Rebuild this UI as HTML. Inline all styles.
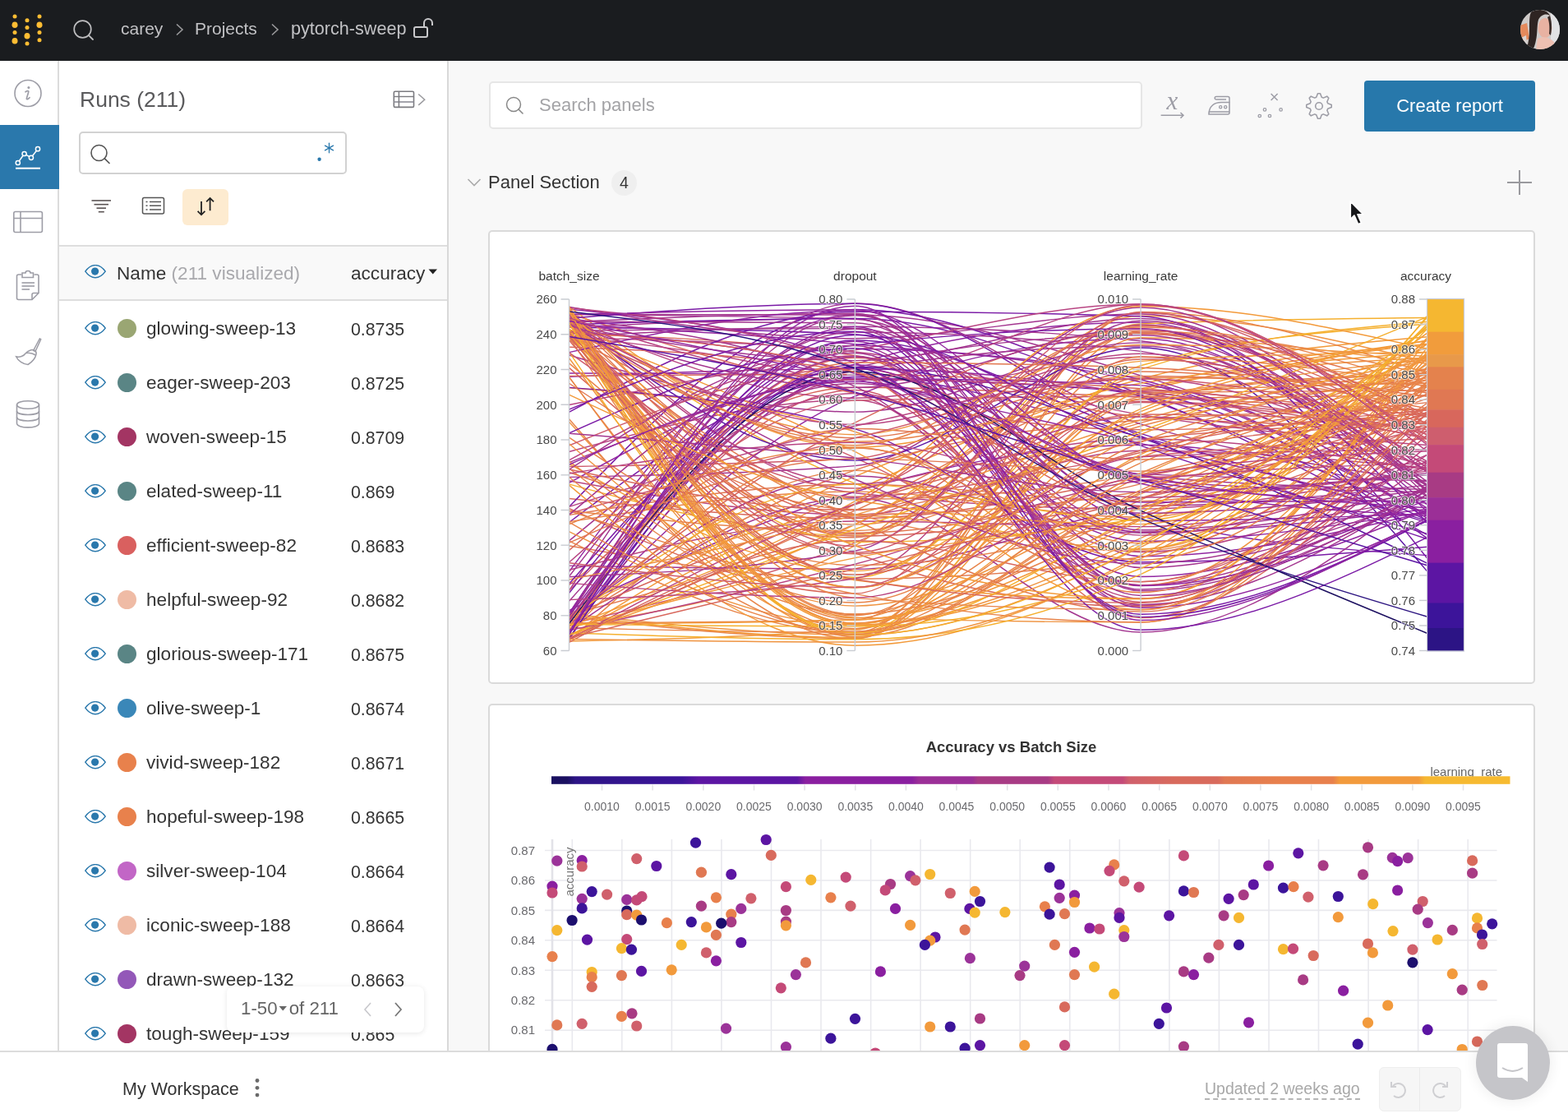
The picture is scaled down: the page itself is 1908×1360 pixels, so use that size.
<!DOCTYPE html>
<html><head><meta charset="utf-8">
<style>
*{box-sizing:border-box;margin:0;padding:0}
html,body{width:1908px;height:1360px;overflow:hidden;background:#f8f8f8;font-family:"Liberation Sans",sans-serif;color:#333}
.abs{position:absolute}
#hdr{position:absolute;left:0;top:0;width:1908px;height:74px;background:#1a1c1f}
#hdr .crumb{position:absolute;top:22px;font-size:21px;color:#c2c2c5;white-space:nowrap;line-height:26px}
#nav{position:absolute;left:0;top:74px;width:72px;height:1204px;background:#fff;border-right:2px solid #dcdcdc}
#nav .act{position:absolute;left:0;top:78px;width:72px;height:78px;background:#2a78ac}
#runs{position:absolute;left:72px;top:74px;width:474px;height:1204px;background:#fff;border-right:2px solid #d9d9d9;overflow:hidden}
#runs .title{position:absolute;left:25px;top:30.5px;font-size:26.5px;color:#5a5a5c;white-space:nowrap;line-height:32px}
#runs .sbox{position:absolute;left:24px;top:86px;width:326px;height:52px;border:2px solid #d2d2d2;border-radius:5px;background:#fff}
#runs .sortbtn{position:absolute;left:150px;top:156px;width:56px;height:44px;background:#fdebd0;border-radius:6px}
#runs .thead{position:absolute;left:0;top:224px;width:472px;height:68px;background:#f9f9f9;border-top:2px solid #dedede;border-bottom:2px solid #dedede}
.row{position:absolute;left:0;width:472px;height:66px}
.row .nm{position:absolute;left:106px;top:20.3px;font-size:22.6px;color:#343434;white-space:nowrap;line-height:28px}
.row .val{position:absolute;left:355px;top:20.8px;font-size:21.3px;color:#343434;white-space:nowrap;line-height:28px}
.row .dot{position:absolute;left:71px;top:22px;width:23px;height:23px;border-radius:50%}
.row svg.eye{position:absolute;left:31px;top:25px}
#main{position:absolute;left:546px;top:74px;width:1362px;height:1204px;background:#f8f8f8;overflow:hidden}
#bottom{position:absolute;left:0;top:1278px;width:1908px;height:82px;background:#fff;border-top:2px solid #dcdcdc}
.panel{position:absolute;left:48px;width:1274px;background:#fff;border:2px solid #dadada;border-radius:5px;overflow:hidden}
</style></head>
<body>
<div id="hdr">
  <svg class="abs" style="left:0;top:0" width="70" height="74"><circle cx="18" cy="20.1" r="2.5" fill="#ffbd33"/><ellipse cx="18" cy="30.3" rx="3.5" ry="3.8" fill="#ffbd33"/><circle cx="18" cy="39.6" r="2.5" fill="#ffbd33"/><ellipse cx="18" cy="49.8" rx="3.5" ry="3.8" fill="#ffbd33"/><circle cx="33" cy="24.7" r="2.5" fill="#ffbd33"/><circle cx="33" cy="33.5" r="2.5" fill="#ffbd33"/><ellipse cx="33" cy="43.7" rx="3.5" ry="3.8" fill="#ffbd33"/><circle cx="33" cy="53.1" r="2.5" fill="#ffbd33"/><circle cx="48" cy="20.1" r="2.5" fill="#ffbd33"/><ellipse cx="48" cy="30.2" rx="3.5" ry="3.8" fill="#ffbd33"/><circle cx="48" cy="39.6" r="2.5" fill="#ffbd33"/><circle cx="48" cy="48.7" r="2.5" fill="#ffbd33"/></svg>
  <svg class="abs" style="left:86px;top:20px" width="32" height="34" viewBox="0 0 32 34"><circle cx="14.5" cy="15.5" r="10.3" fill="none" stroke="#bdbdbf" stroke-width="1.7"/><line x1="21.8" y1="22.8" x2="27" y2="28" stroke="#bdbdbf" stroke-width="1.8" stroke-linecap="round"/></svg>
  <div class="crumb" style="left:147px">carey</div>
  <svg class="abs" style="left:213px;top:28px" width="12" height="16" viewBox="0 0 12 16"><path d="M2 1.5 L9 8 L2 14.5" fill="none" stroke="#9a9a9c" stroke-width="1.6"/></svg>
  <div class="crumb" style="left:237px">Projects</div>
  <svg class="abs" style="left:329px;top:28px" width="12" height="16" viewBox="0 0 12 16"><path d="M2 1.5 L9 8 L2 14.5" fill="none" stroke="#9a9a9c" stroke-width="1.6"/></svg>
  <div class="crumb" style="left:354px;font-size:21.6px">pytorch-sweep</div>
  <svg class="abs" style="left:502px;top:20px" width="28" height="28" viewBox="0 0 28 28"><rect x="2" y="13" width="16" height="12" rx="2" fill="none" stroke="#c9c9cb" stroke-width="2"/><path d="M14 13 V8 a5 5 0 0 1 10 0 V11" fill="none" stroke="#c9c9cb" stroke-width="2"/></svg>
  <svg class="abs" style="left:1849px;top:11px" width="50" height="50" viewBox="0 0 50 50">
<defs><clipPath id="avc"><circle cx="25" cy="25" r="24"/></clipPath></defs>
<g clip-path="url(#avc)">
<rect width="50" height="50" fill="#cfcbc9"/>
<rect x="38" y="0" width="12" height="50" fill="#e2e2e4"/>
<path d="M0 20 L9 17 L12 36 L0 42Z" fill="#e58a5c"/>
<path d="M0 36 L8 32 L10 50 L0 50Z" fill="#d9d4d2"/>
<ellipse cx="31" cy="23" rx="8.5" ry="12" fill="#e8b2a2"/>
<path d="M22 36 C28 33 36 34 42 40 L44 50 L20 50Z" fill="#eec0b2"/>
<path d="M14 4 C20 -1 34 0 37 8 C32 5 26 7 23 13 C21 20 22 30 20 38 C19 44 17 48 16 50 L8 50 C11 42 12 34 12 24 C12 15 12 8 14 4Z" fill="#2e2422"/>
<path d="M37 8 C39 14 40 22 38 32 L36 30 C37 22 36 14 34 10Z" fill="#3a2c28"/>
</g></svg>
</div>
<div id="nav">
  <div class="act"></div>
  <svg class="abs" style="left:16px;top:21px" width="38" height="38" viewBox="0 0 38 38"><circle cx="18" cy="18.5" r="16" fill="none" stroke="#9d9da6" stroke-width="1.6"/>
<path d="M15 16.8 C16.5 15.7 18.6 15.1 18.8 16.3 C18.2 19.5 16.8 22.6 16.4 24.8 C16.2 26.2 18.2 25.8 20 23.7" fill="none" stroke="#9d9da6" stroke-width="1.7" stroke-linecap="round"/><circle cx="18.9" cy="11.6" r="1.5" fill="#9d9da6"/></svg><svg class="abs" style="left:14px;top:100px" width="40" height="36" viewBox="0 0 40 36">
<polyline points="7.8,24 15.6,13 23.9,17.8 32,7.2" fill="none" stroke="#fff" stroke-width="1.5"/>
<g fill="#2a78ac" stroke="#fff" stroke-width="1.5"><circle cx="7.8" cy="24" r="2.6"/><circle cx="15.6" cy="13" r="2.6"/><circle cx="23.9" cy="17.8" r="2.6"/><circle cx="32" cy="7.2" r="2.6"/></g>
<line x1="5" y1="30.7" x2="35" y2="30.7" stroke="#fff" stroke-width="2"/></svg><svg class="abs" style="left:14px;top:180px" width="40" height="32" viewBox="0 0 40 32">
<rect x="2.8" y="3.5" width="34.6" height="25" rx="2" fill="none" stroke="#9d9da6" stroke-width="1.6"/>
<line x1="2.8" y1="11.5" x2="37.4" y2="11.5" stroke="#9d9da6" stroke-width="1.6"/><line x1="11" y1="3.5" x2="11" y2="28.5" stroke="#9d9da6" stroke-width="1.6"/></svg><svg class="abs" style="left:18px;top:254px" width="32" height="38" viewBox="0 0 32 38">
<path d="M8 6 H4.5 a2 2 0 0 0 -2 2 V34.5 a2 2 0 0 0 2 2 H21 L29 28.5 V8 a2 2 0 0 0 -2 -2 H23.5" fill="none" stroke="#9d9da6" stroke-width="1.6"/>
<path d="M9 4 H13 a3 2.5 0 0 1 6 0 H22.5 V9.5 H9 Z" fill="none" stroke="#9d9da6" stroke-width="1.6"/>
<path d="M21 36.5 V30.5 a2 2 0 0 1 2 -2 H29" fill="none" stroke="#9d9da6" stroke-width="1.6"/>
<line x1="8.5" y1="16" x2="24" y2="16" stroke="#9d9da6" stroke-width="1.6"/><line x1="8.5" y1="20" x2="24" y2="20" stroke="#9d9da6" stroke-width="1.6"/><line x1="8.5" y1="24" x2="18" y2="24" stroke="#9d9da6" stroke-width="1.6"/></svg><svg class="abs" style="left:16px;top:334px" width="36" height="40" viewBox="0 0 36 40">
<path d="M32.3 4 L33.7 4.8 L27 19.5 L24.6 18.4 Z" fill="none" stroke="#9d9da6" stroke-width="1.5"/>
<path d="M21 18 C24 16.5 29 18.5 28 23 C27 28 22 33 18 35.5 C12 35 6 31 3.6 25.8 C8 27 13 25 15 22 C17 19.5 18.5 18.8 21 18 Z" fill="none" stroke="#9d9da6" stroke-width="1.5"/>
<path d="M16 21.5 C20 21 25 22.5 27.5 24" fill="none" stroke="#9d9da6" stroke-width="1.5"/></svg><svg class="abs" style="left:18px;top:411px" width="32" height="38" viewBox="0 0 32 38">
<ellipse cx="16" cy="7.5" rx="13.5" ry="4.8" fill="none" stroke="#9d9da6" stroke-width="1.6"/>
<path d="M2.5 7.5 V30 C2.5 36.5 29.5 36.5 29.5 30 V7.5" fill="none" stroke="#9d9da6" stroke-width="1.6"/>
<path d="M2.5 15 C2.5 21 29.5 21 29.5 15 M2.5 22.5 C2.5 28.5 29.5 28.5 29.5 22.5" fill="none" stroke="#9d9da6" stroke-width="1.6"/></svg>
</div>
<div id="runs">
  <div class="title">Runs (211)</div>
  <svg class="abs" style="left:404px;top:34px" width="44" height="26" viewBox="0 0 44 26">
<rect x="3.3" y="3.3" width="24.2" height="19.1" rx="1.5" fill="none" stroke="#7b7b80" stroke-width="1.6"/>
<line x1="3.3" y1="9.5" x2="27.5" y2="9.5" stroke="#7b7b80" stroke-width="1.4"/><line x1="3.3" y1="16" x2="27.5" y2="16" stroke="#8e8e98" stroke-width="1.6"/><line x1="9.4" y1="3.3" x2="9.4" y2="22.4" stroke="#7b7b80" stroke-width="1.5"/>
<path d="M33.2 6.5 L40.7 13.2 L33.2 19.9" fill="none" stroke="#9a9a9e" stroke-width="1.5"/></svg><div class="sbox"></div><svg class="abs" style="left:36px;top:99px" width="30" height="30" viewBox="0 0 30 30"><circle cx="12.5" cy="13" r="9.5" fill="none" stroke="#555" stroke-width="1.6"/><line x1="19.3" y1="19.8" x2="25" y2="25.5" stroke="#555" stroke-width="1.7" stroke-linecap="round"/></svg><svg class="abs" style="left:310px;top:96px" width="30" height="30" viewBox="0 0 30 30"><circle cx="6.6" cy="23.7" r="2.2" fill="#2a78ac"/>
<g stroke="#2a78ac" stroke-width="1.3" stroke-linecap="round"><line x1="18.5" y1="4.2" x2="18.5" y2="15.8"/><line x1="13.5" y1="7.1" x2="23.5" y2="12.9"/><line x1="13.5" y1="12.9" x2="23.5" y2="7.1"/></g></svg><svg class="abs" style="left:38px;top:166px" width="28" height="22" viewBox="0 0 28 22"><g stroke="#5a5353" stroke-width="1.6"><line x1="1.5" y1="4" x2="25" y2="4"/><line x1="4.5" y1="8.7" x2="22" y2="8.7"/><line x1="7.5" y1="13.2" x2="19" y2="13.2"/><line x1="9.8" y1="17.7" x2="16.8" y2="17.7"/></g></svg><svg class="abs" style="left:100px;top:164px" width="30" height="26" viewBox="0 0 30 26"><rect x="1.5" y="2.5" width="26" height="19.5" rx="2" fill="none" stroke="#555" stroke-width="1.5"/>
<g stroke="#555" stroke-width="1.5"><line x1="5.5" y1="7.5" x2="7.5" y2="7.5"/><line x1="10" y1="7.5" x2="24" y2="7.5"/><line x1="5.5" y1="12.2" x2="7.5" y2="12.2"/><line x1="10" y1="12.2" x2="24" y2="12.2"/><line x1="5.5" y1="17" x2="7.5" y2="17"/><line x1="10" y1="17" x2="24" y2="17"/></g></svg><div class="sortbtn"></div><svg class="abs" style="left:165px;top:163px" width="28" height="30" viewBox="0 0 28 30"><g stroke="#222" stroke-width="1.8" fill="none"><path d="M8 8 V24.3 M3.6 19.9 L8 24.3 L12.4 19.9"/><path d="M18.6 19.3 V3.9 M14.2 8.3 L18.6 3.9 L23 8.3"/></g></svg>
  <div class="thead">
    <svg class="abs" style="left:31px;top:22px" width="26" height="18" viewBox="0 0 26 18"><path d="M0.8 8.2 C5 2.3 9 0.6 13 0.6 C17 0.6 21 2.3 25.2 8.2 C21 14.1 17 15.8 13 15.8 C9 15.8 5 14.1 0.8 8.2 Z" fill="none" stroke="#2a78ac" stroke-width="1.45"/><circle cx="12.6" cy="8.1" r="4.6" fill="#2a78ac"/></svg><div class="abs" style="left:70px;top:19px;font-size:22.6px;line-height:28px;white-space:nowrap;color:#343434">Name <span style="color:#a9a9ad">(211 visualized)</span></div><div class="abs" style="left:355px;top:19px;font-size:22.6px;line-height:28px;white-space:nowrap;color:#343434">accuracy</div><svg class="abs" style="left:449px;top:27px" width="12" height="8" viewBox="0 0 12 8"><path d="M0.5 0.5 H11 L5.75 6.5Z" fill="#222"/></svg>
  </div>
  <div class="row" style="top:292px"><svg class="eye" width="26" height="18" viewBox="0 0 26 18"><path d="M0.8 8.2 C5 2.3 9 0.6 13 0.6 C17 0.6 21 2.3 25.2 8.2 C21 14.1 17 15.8 13 15.8 C9 15.8 5 14.1 0.8 8.2 Z" fill="none" stroke="#2a78ac" stroke-width="1.45"/><circle cx="12.6" cy="8.1" r="4.6" fill="#2a78ac"/></svg><div class="dot" style="background:#9aa673"></div><div class="nm">glowing-sweep-13</div><div class="val">0.8735</div></div><div class="row" style="top:358px"><svg class="eye" width="26" height="18" viewBox="0 0 26 18"><path d="M0.8 8.2 C5 2.3 9 0.6 13 0.6 C17 0.6 21 2.3 25.2 8.2 C21 14.1 17 15.8 13 15.8 C9 15.8 5 14.1 0.8 8.2 Z" fill="none" stroke="#2a78ac" stroke-width="1.45"/><circle cx="12.6" cy="8.1" r="4.6" fill="#2a78ac"/></svg><div class="dot" style="background:#5a8585"></div><div class="nm">eager-sweep-203</div><div class="val">0.8725</div></div><div class="row" style="top:424px"><svg class="eye" width="26" height="18" viewBox="0 0 26 18"><path d="M0.8 8.2 C5 2.3 9 0.6 13 0.6 C17 0.6 21 2.3 25.2 8.2 C21 14.1 17 15.8 13 15.8 C9 15.8 5 14.1 0.8 8.2 Z" fill="none" stroke="#2a78ac" stroke-width="1.45"/><circle cx="12.6" cy="8.1" r="4.6" fill="#2a78ac"/></svg><div class="dot" style="background:#a33563"></div><div class="nm">woven-sweep-15</div><div class="val">0.8709</div></div><div class="row" style="top:490px"><svg class="eye" width="26" height="18" viewBox="0 0 26 18"><path d="M0.8 8.2 C5 2.3 9 0.6 13 0.6 C17 0.6 21 2.3 25.2 8.2 C21 14.1 17 15.8 13 15.8 C9 15.8 5 14.1 0.8 8.2 Z" fill="none" stroke="#2a78ac" stroke-width="1.45"/><circle cx="12.6" cy="8.1" r="4.6" fill="#2a78ac"/></svg><div class="dot" style="background:#5a8585"></div><div class="nm">elated-sweep-11</div><div class="val">0.869</div></div><div class="row" style="top:556px"><svg class="eye" width="26" height="18" viewBox="0 0 26 18"><path d="M0.8 8.2 C5 2.3 9 0.6 13 0.6 C17 0.6 21 2.3 25.2 8.2 C21 14.1 17 15.8 13 15.8 C9 15.8 5 14.1 0.8 8.2 Z" fill="none" stroke="#2a78ac" stroke-width="1.45"/><circle cx="12.6" cy="8.1" r="4.6" fill="#2a78ac"/></svg><div class="dot" style="background:#d9605f"></div><div class="nm">efficient-sweep-82</div><div class="val">0.8683</div></div><div class="row" style="top:622px"><svg class="eye" width="26" height="18" viewBox="0 0 26 18"><path d="M0.8 8.2 C5 2.3 9 0.6 13 0.6 C17 0.6 21 2.3 25.2 8.2 C21 14.1 17 15.8 13 15.8 C9 15.8 5 14.1 0.8 8.2 Z" fill="none" stroke="#2a78ac" stroke-width="1.45"/><circle cx="12.6" cy="8.1" r="4.6" fill="#2a78ac"/></svg><div class="dot" style="background:#efbba5"></div><div class="nm">helpful-sweep-92</div><div class="val">0.8682</div></div><div class="row" style="top:688px"><svg class="eye" width="26" height="18" viewBox="0 0 26 18"><path d="M0.8 8.2 C5 2.3 9 0.6 13 0.6 C17 0.6 21 2.3 25.2 8.2 C21 14.1 17 15.8 13 15.8 C9 15.8 5 14.1 0.8 8.2 Z" fill="none" stroke="#2a78ac" stroke-width="1.45"/><circle cx="12.6" cy="8.1" r="4.6" fill="#2a78ac"/></svg><div class="dot" style="background:#5a8585"></div><div class="nm">glorious-sweep-171</div><div class="val">0.8675</div></div><div class="row" style="top:754px"><svg class="eye" width="26" height="18" viewBox="0 0 26 18"><path d="M0.8 8.2 C5 2.3 9 0.6 13 0.6 C17 0.6 21 2.3 25.2 8.2 C21 14.1 17 15.8 13 15.8 C9 15.8 5 14.1 0.8 8.2 Z" fill="none" stroke="#2a78ac" stroke-width="1.45"/><circle cx="12.6" cy="8.1" r="4.6" fill="#2a78ac"/></svg><div class="dot" style="background:#3a87b8"></div><div class="nm">olive-sweep-1</div><div class="val">0.8674</div></div><div class="row" style="top:820px"><svg class="eye" width="26" height="18" viewBox="0 0 26 18"><path d="M0.8 8.2 C5 2.3 9 0.6 13 0.6 C17 0.6 21 2.3 25.2 8.2 C21 14.1 17 15.8 13 15.8 C9 15.8 5 14.1 0.8 8.2 Z" fill="none" stroke="#2a78ac" stroke-width="1.45"/><circle cx="12.6" cy="8.1" r="4.6" fill="#2a78ac"/></svg><div class="dot" style="background:#e8814c"></div><div class="nm">vivid-sweep-182</div><div class="val">0.8671</div></div><div class="row" style="top:886px"><svg class="eye" width="26" height="18" viewBox="0 0 26 18"><path d="M0.8 8.2 C5 2.3 9 0.6 13 0.6 C17 0.6 21 2.3 25.2 8.2 C21 14.1 17 15.8 13 15.8 C9 15.8 5 14.1 0.8 8.2 Z" fill="none" stroke="#2a78ac" stroke-width="1.45"/><circle cx="12.6" cy="8.1" r="4.6" fill="#2a78ac"/></svg><div class="dot" style="background:#e8814c"></div><div class="nm">hopeful-sweep-198</div><div class="val">0.8665</div></div><div class="row" style="top:952px"><svg class="eye" width="26" height="18" viewBox="0 0 26 18"><path d="M0.8 8.2 C5 2.3 9 0.6 13 0.6 C17 0.6 21 2.3 25.2 8.2 C21 14.1 17 15.8 13 15.8 C9 15.8 5 14.1 0.8 8.2 Z" fill="none" stroke="#2a78ac" stroke-width="1.45"/><circle cx="12.6" cy="8.1" r="4.6" fill="#2a78ac"/></svg><div class="dot" style="background:#c266c6"></div><div class="nm">silver-sweep-104</div><div class="val">0.8664</div></div><div class="row" style="top:1018px"><svg class="eye" width="26" height="18" viewBox="0 0 26 18"><path d="M0.8 8.2 C5 2.3 9 0.6 13 0.6 C17 0.6 21 2.3 25.2 8.2 C21 14.1 17 15.8 13 15.8 C9 15.8 5 14.1 0.8 8.2 Z" fill="none" stroke="#2a78ac" stroke-width="1.45"/><circle cx="12.6" cy="8.1" r="4.6" fill="#2a78ac"/></svg><div class="dot" style="background:#efbba5"></div><div class="nm">iconic-sweep-188</div><div class="val">0.8664</div></div><div class="row" style="top:1084px"><svg class="eye" width="26" height="18" viewBox="0 0 26 18"><path d="M0.8 8.2 C5 2.3 9 0.6 13 0.6 C17 0.6 21 2.3 25.2 8.2 C21 14.1 17 15.8 13 15.8 C9 15.8 5 14.1 0.8 8.2 Z" fill="none" stroke="#2a78ac" stroke-width="1.45"/><circle cx="12.6" cy="8.1" r="4.6" fill="#2a78ac"/></svg><div class="dot" style="background:#9358b8"></div><div class="nm">drawn-sweep-132</div><div class="val">0.8663</div></div><div class="row" style="top:1150px"><svg class="eye" width="26" height="18" viewBox="0 0 26 18"><path d="M0.8 8.2 C5 2.3 9 0.6 13 0.6 C17 0.6 21 2.3 25.2 8.2 C21 14.1 17 15.8 13 15.8 C9 15.8 5 14.1 0.8 8.2 Z" fill="none" stroke="#2a78ac" stroke-width="1.45"/><circle cx="12.6" cy="8.1" r="4.6" fill="#2a78ac"/></svg><div class="dot" style="background:#a33563"></div><div class="nm">tough-sweep-159</div><div class="val">0.865</div></div><div class="abs" style="left:204px;top:1126px;width:240px;height:56px;background:#fff;border-radius:8px;box-shadow:0 1px 6px rgba(0,0,0,0.10)">
<div class="abs" style="left:17px;top:14px;font-size:22.3px;line-height:26px;color:#666;white-space:nowrap">1-50<span style="display:inline-block;width:14px;height:10px;vertical-align:middle"><svg width="12" height="8" viewBox="0 0 12 8" style="display:block;margin-left:1px"><path d="M0.5 1 H10 L5.25 6.5Z" fill="#666"/></svg></span>of 211</div>
<svg class="abs" style="left:164px;top:16px" width="16" height="24" viewBox="0 0 16 24"><path d="M11 4 L4 12 L11 20" fill="none" stroke="#c8c8cc" stroke-width="1.6"/></svg>
<svg class="abs" style="left:200px;top:16px" width="16" height="24" viewBox="0 0 16 24"><path d="M5 4 L12 12 L5 20" fill="none" stroke="#777" stroke-width="1.8"/></svg>
</div>
</div>
<div id="main">
  <div class="abs" style="left:49px;top:25px;width:795px;height:58px;background:#fff;border:2px solid #e6e6e6;border-radius:5px"></div><svg class="abs" style="left:68px;top:42px" width="26" height="26" viewBox="0 0 26 26"><circle cx="11" cy="11" r="8.5" fill="none" stroke="#888" stroke-width="1.5"/><line x1="17" y1="17" x2="22" y2="22" stroke="#888" stroke-width="1.6" stroke-linecap="round"/></svg><div class="abs" style="left:110px;top:40px;font-size:22px;line-height:28px;color:#a3a3a6;white-space:nowrap">Search panels</div><svg class="abs" style="left:864px;top:40px" width="34" height="34" viewBox="0 0 34 34">
<text x="16.5" y="19.3" text-anchor="middle" font-family="Liberation Serif, serif" font-style="italic" font-size="31" fill="#9d9da6">x</text>
<path d="M2.6 26.3 H30 M26.5 23 L30 26.3 L26.5 29.6" fill="none" stroke="#9d9da6" stroke-width="1.5"/></svg><svg class="abs" style="left:922px;top:40px" width="34" height="30" viewBox="0 0 34 30">
<path d="M3 25 C3 15 10 10.5 18 10.5 H28 V23 a2 2 0 0 1 -2 2 Z" fill="none" stroke="#9d9da6" stroke-width="1.6"/>
<path d="M3 22 H28" stroke="#9d9da6" stroke-width="1.5"/>
<path d="M12 3.5 H26 a2 2 0 0 1 2 2 V10.5 M12 3.5 a1.8 1.8 0 0 0 0 3.6 H24" fill="none" stroke="#9d9da6" stroke-width="1.5"/>
<circle cx="17.2" cy="16.2" r="1.6" fill="none" stroke="#9d9da6" stroke-width="1.3"/><circle cx="23.2" cy="16.2" r="1.6" fill="none" stroke="#9d9da6" stroke-width="1.3"/></svg><svg class="abs" style="left:982px;top:38px" width="34" height="34" viewBox="0 0 34 34">
<path d="M18.6 2 L26.6 10 M26.6 2 L18.6 10" stroke="#9d9da6" stroke-width="1.5"/>
<g fill="none" stroke="#9d9da6" stroke-width="1.3"><circle cx="4.8" cy="29" r="1.7"/><circle cx="11" cy="21.4" r="1.7"/><circle cx="17" cy="29" r="1.7"/><circle cx="30.6" cy="21.4" r="1.7"/></g></svg><svg class="abs" style="left:1042px;top:38px" width="34" height="34" viewBox="0 0 34 34">
<path d="M15.50 1.77 L18.50 1.77 L20.25 6.28 L22.28 7.12 L26.71 5.17 L28.83 7.29 L26.88 11.72 L27.72 13.75 L32.23 15.50 L32.23 18.50 L27.72 20.25 L26.88 22.28 L28.83 26.71 L26.71 28.83 L22.28 26.88 L20.25 27.72 L18.50 32.23 L15.50 32.23 L13.75 27.72 L11.72 26.88 L7.29 28.83 L5.17 26.71 L7.12 22.28 L6.28 20.25 L1.77 18.50 L1.77 15.50 L6.28 13.75 L7.12 11.72 L5.17 7.29 L7.29 5.17 L11.72 7.12 L13.75 6.28Z" fill="none" stroke="#9d9da6" stroke-width="1.6" stroke-linejoin="round"/><circle cx="17" cy="17" r="4.3" fill="none" stroke="#9d9da6" stroke-width="1.6"/></svg><div class="abs" style="left:1114px;top:24px;width:208px;height:62px;background:#2778ab;border-radius:4px;color:#fff;font-size:22px;line-height:62px;text-align:center;white-space:nowrap">Create report</div><svg class="abs" style="left:22px;top:142px" width="18" height="12" viewBox="0 0 18 12"><path d="M1.5 2 L9 9.5 L16.5 2" fill="none" stroke="#aaa" stroke-width="1.6"/></svg><div class="abs" style="left:48px;top:134px;font-size:22px;line-height:28px;color:#333;white-space:nowrap">Panel Section</div><div class="abs" style="left:198px;top:133px;width:31px;height:31px;border-radius:50%;background:#efefef;font-size:19.5px;line-height:31px;text-align:center;color:#333">4</div><svg class="abs" style="left:1286px;top:131px" width="34" height="34" viewBox="0 0 34 34"><path d="M17 2 V32 M2 17 H32" stroke="#9a9a9e" stroke-width="2"/></svg><svg class="abs" style="left:1094px;top:167px" width="26" height="36" viewBox="0 0 26 36"><path d="M3.2 3.9 L3.2 25.8 L7.9 21.2 L12.6 31.9 L16.6 30.2 L12.1 19.8 L18.8 19.6 Z" fill="#16171a" stroke="#fff" stroke-width="1.8" stroke-linejoin="round"/></svg>
  <div class="panel" style="top:206px;height:552px">
    <svg class="abs" style="left:-2px;top:-2px" width="1274" height="552" viewBox="594 280 1274 552"><g fill="none" stroke-width="1.45"><path d="M692.5 606.4C808.5 618.5 924.4 630.6 1040.4 630.6C1156.3 630.6 1272.2 601.2 1388.1 580.2C1504.4 559.1 1620.7 531.6 1737.0 504.1" stroke="#d8675c"/><path d="M692.5 773.6C808.5 711.3 924.4 649.1 1040.4 597.0C1156.3 544.9 1272.2 492.2 1388.1 461.0C1504.4 429.7 1620.7 419.7 1737.0 409.8" stroke="#f39a3a"/><path d="M692.5 767.1C808.5 612.8 924.4 458.5 1040.4 458.5C1156.3 458.5 1272.2 502.0 1388.1 531.6C1504.4 561.2 1620.7 598.5 1737.0 635.9" stroke="#7a1aa6"/><path d="M692.5 409.4C808.5 403.4 924.4 397.3 1040.4 397.3C1156.3 397.3 1272.2 403.1 1388.1 414.7C1504.4 426.3 1620.7 511.2 1737.0 596.0" stroke="#a3358f"/><path d="M692.5 770.7C808.5 622.6 924.4 474.4 1040.4 474.4C1156.3 474.4 1272.2 732.5 1388.1 732.5C1504.4 732.5 1620.7 630.7 1737.0 528.9" stroke="#ce5a6c"/><path d="M692.5 669.4C808.5 570.3 924.4 471.3 1040.4 471.3C1156.3 471.3 1272.2 478.5 1388.1 483.1C1504.4 487.6 1620.7 493.1 1737.0 498.6" stroke="#d8675c"/><path d="M692.5 770.0C808.5 623.3 924.4 476.7 1040.4 442.9C1156.3 409.1 1272.2 392.2 1388.1 392.2C1504.4 392.2 1620.7 507.6 1737.0 623.0" stroke="#9226a0"/><path d="M692.5 405.8C808.5 410.2 924.4 414.7 1040.4 432.5C1156.3 450.4 1272.2 647.3 1388.1 647.3C1504.4 647.3 1620.7 574.0 1737.0 500.7" stroke="#d8675c"/><path d="M692.5 626.5C808.5 607.9 924.4 589.2 1040.4 589.2C1156.3 589.2 1272.2 609.6 1388.1 609.6C1504.4 609.6 1620.7 552.2 1737.0 494.8" stroke="#e27850"/><path d="M692.5 759.3C808.5 732.3 924.4 705.3 1040.4 660.1C1156.3 615.0 1272.2 488.2 1388.1 488.2C1504.4 488.2 1620.7 507.0 1737.0 525.8" stroke="#ce5a6c"/><path d="M692.5 453.9C808.5 454.3 924.4 454.7 1040.4 456.3C1156.3 457.9 1272.2 701.5 1388.1 701.5C1504.4 701.5 1620.7 654.7 1737.0 607.9" stroke="#9226a0"/><path d="M692.5 747.7C808.5 717.3 924.4 687.0 1040.4 637.7C1156.3 588.5 1272.2 452.0 1388.1 452.0C1504.4 452.0 1620.7 474.5 1737.0 497.0" stroke="#e27850"/><path d="M692.5 760.8C808.5 743.6 924.4 726.4 1040.4 663.6C1156.3 600.8 1272.2 384.2 1388.1 384.2C1504.4 384.2 1620.7 412.2 1737.0 440.2" stroke="#ef9442"/><path d="M692.5 750.4C808.5 763.5 924.4 776.7 1040.4 776.7C1156.3 776.7 1272.2 459.2 1388.1 459.2C1504.4 459.2 1620.7 463.9 1737.0 468.6" stroke="#e8844a"/><path d="M692.5 447.4C808.5 548.6 924.4 649.7 1040.4 649.7C1156.3 649.7 1272.2 404.3 1388.1 404.3C1504.4 404.3 1620.7 462.0 1737.0 519.7" stroke="#d8675c"/><path d="M692.5 377.4C808.5 482.2 924.4 587.0 1040.4 599.8C1156.3 612.6 1272.2 619.0 1388.1 619.0C1504.4 619.0 1620.7 593.8 1737.0 568.5" stroke="#b84482"/><path d="M692.5 780.0C808.5 777.5 924.4 775.0 1040.4 764.9C1156.3 754.8 1272.2 699.0 1388.1 641.3C1504.4 583.5 1620.7 500.9 1737.0 418.2" stroke="#f39a3a"/><path d="M692.5 584.9C808.5 605.4 924.4 626.0 1040.4 626.0C1156.3 626.0 1272.2 548.2 1388.1 548.2C1504.4 548.2 1620.7 558.6 1737.0 569.0" stroke="#b84482"/><path d="M692.5 398.2C808.5 399.6 924.4 401.0 1040.4 406.7C1156.3 412.3 1272.2 595.7 1388.1 627.6C1504.4 659.6 1620.7 667.6 1737.0 675.6" stroke="#7a1aa6"/><path d="M692.5 567.5C808.5 565.8 924.4 564.2 1040.4 557.6C1156.3 551.0 1272.2 405.9 1388.1 405.9C1504.4 405.9 1620.7 467.7 1737.0 529.4" stroke="#ce5a6c"/><path d="M692.5 618.6C808.5 670.3 924.4 722.0 1040.4 722.0C1156.3 722.0 1272.2 380.4 1388.1 380.4C1504.4 380.4 1620.7 448.4 1737.0 516.3" stroke="#d8675c"/><path d="M692.5 711.6C808.5 616.5 924.4 521.5 1040.4 521.5C1156.3 521.5 1272.2 558.9 1388.1 558.9C1504.4 558.9 1620.7 528.4 1737.0 497.9" stroke="#e27850"/><path d="M692.5 756.7C808.5 596.0 924.4 435.3 1040.4 435.3C1156.3 435.3 1272.2 498.8 1388.1 506.9C1504.4 515.1 1620.7 517.1 1737.0 519.2" stroke="#d8675c"/><path d="M692.5 458.3C808.5 453.5 924.4 448.8 1040.4 448.8C1156.3 448.8 1272.2 459.6 1388.1 481.3C1504.4 503.0 1620.7 564.6 1737.0 626.2" stroke="#9226a0"/><path d="M692.5 747.7C808.5 580.9 924.4 414.1 1040.4 414.1C1156.3 414.1 1272.2 490.9 1388.1 527.4C1504.4 564.1 1620.7 598.8 1737.0 633.6" stroke="#7a1aa6"/><path d="M692.5 589.0C808.5 620.2 924.4 651.5 1040.4 651.5C1156.3 651.5 1272.2 399.0 1388.1 394.0C1504.4 389.0 1620.7 387.7 1737.0 386.5" stroke="#f5b02f"/><path d="M692.5 774.6C808.5 702.0 924.4 629.4 1040.4 579.6C1156.3 529.9 1272.2 503.3 1388.1 475.9C1504.4 448.3 1620.7 431.5 1737.0 414.6" stroke="#f39a3a"/><path d="M692.5 746.1C808.5 573.1 924.4 400.1 1040.4 400.1C1156.3 400.1 1272.2 735.6 1388.1 735.6C1504.4 735.6 1620.7 665.7 1737.0 595.9" stroke="#a3358f"/><path d="M692.5 695.4C808.5 539.0 924.4 382.6 1040.4 382.6C1156.3 382.6 1272.2 676.8 1388.1 676.8C1504.4 676.8 1620.7 649.8 1737.0 622.7" stroke="#9226a0"/><path d="M692.5 549.5C808.5 518.0 924.4 486.6 1040.4 486.6C1156.3 486.6 1272.2 737.0 1388.1 737.0C1504.4 737.0 1620.7 639.7 1737.0 542.4" stroke="#b84482"/><path d="M692.5 441.9C808.5 540.0 924.4 638.1 1040.4 638.1C1156.3 638.1 1272.2 546.0 1388.1 514.4C1504.4 482.7 1620.7 465.6 1737.0 448.5" stroke="#e8844a"/><path d="M692.5 742.5C808.5 687.1 924.4 631.7 1040.4 598.2C1156.3 564.7 1272.2 541.2 1388.1 541.2C1504.4 541.2 1620.7 573.9 1737.0 606.7" stroke="#9226a0"/><path d="M692.5 400.2C808.5 498.0 924.4 595.8 1040.4 625.6C1156.3 655.3 1272.2 670.2 1388.1 670.2C1504.4 670.2 1620.7 569.2 1737.0 468.2" stroke="#e8844a"/><path d="M692.5 382.5C808.5 383.5 924.4 384.4 1040.4 388.2C1156.3 392.0 1272.2 573.8 1388.1 583.8C1504.4 593.8 1620.7 596.3 1737.0 598.8" stroke="#a3358f"/><path d="M692.5 409.2C808.5 421.3 924.4 433.4 1040.4 477.1C1156.3 520.8 1272.2 671.5 1388.1 671.5C1504.4 671.5 1620.7 616.0 1737.0 560.6" stroke="#b84482"/><path d="M692.5 761.8C808.5 645.3 924.4 528.9 1040.4 482.0C1156.3 435.2 1272.2 411.8 1388.1 411.8C1504.4 411.8 1620.7 513.1 1737.0 614.4" stroke="#9226a0"/><path d="M692.5 658.1C808.5 713.8 924.4 769.4 1040.4 769.4C1156.3 769.4 1272.2 379.6 1388.1 379.6C1504.4 379.6 1620.7 416.8 1737.0 454.0" stroke="#e8844a"/><path d="M692.5 513.3C808.5 639.7 924.4 766.0 1040.4 766.0C1156.3 766.0 1272.2 410.7 1388.1 410.7C1504.4 410.7 1620.7 426.6 1737.0 442.5" stroke="#ef9442"/><path d="M692.5 746.6C808.5 759.3 924.4 772.0 1040.4 772.0C1156.3 772.0 1272.2 497.7 1388.1 472.8C1504.4 447.7 1620.7 441.5 1737.0 435.2" stroke="#ef9442"/><path d="M692.5 657.9C808.5 562.2 924.4 466.6 1040.4 466.6C1156.3 466.6 1272.2 567.6 1388.1 578.7C1504.4 589.8 1620.7 592.6 1737.0 595.4" stroke="#a3358f"/><path d="M692.5 393.7C808.5 546.4 924.4 699.2 1040.4 699.2C1156.3 699.2 1272.2 488.8 1388.1 485.6C1504.4 482.5 1620.7 481.7 1737.0 480.9" stroke="#e27850"/><path d="M692.5 635.5C808.5 548.6 924.4 461.8 1040.4 461.8C1156.3 461.8 1272.2 467.2 1388.1 478.0C1504.4 488.9 1620.7 572.0 1737.0 655.0" stroke="#7a1aa6"/><path d="M692.5 688.1C808.5 690.2 924.4 692.2 1040.4 692.2C1156.3 692.2 1272.2 635.1 1388.1 616.0C1504.4 596.8 1620.7 587.2 1737.0 577.7" stroke="#a3358f"/><path d="M692.5 634.7C808.5 616.4 924.4 598.1 1040.4 598.1C1156.3 598.1 1272.2 629.2 1388.1 629.2C1504.4 629.2 1620.7 548.4 1737.0 467.5" stroke="#e8844a"/><path d="M692.5 457.4C808.5 456.5 924.4 455.5 1040.4 455.5C1156.3 455.5 1272.2 464.4 1388.1 472.8C1504.4 481.3 1620.7 493.7 1737.0 506.2" stroke="#d8675c"/><path d="M692.5 646.7C808.5 703.4 924.4 760.2 1040.4 760.2C1156.3 760.2 1272.2 707.5 1388.1 654.7C1504.4 601.8 1620.7 522.2 1737.0 442.7" stroke="#ef9442"/><path d="M692.5 403.2C808.5 503.7 924.4 604.2 1040.4 604.2C1156.3 604.2 1272.2 567.1 1388.1 555.4C1504.4 543.6 1620.7 538.7 1737.0 533.8" stroke="#ce5a6c"/><path d="M692.5 409.6C808.5 519.4 924.4 629.3 1040.4 672.7C1156.3 716.1 1272.2 737.8 1388.1 737.8C1504.4 737.8 1620.7 624.0 1737.0 510.1" stroke="#d8675c"/><path d="M692.5 435.7C808.5 591.5 924.4 747.2 1040.4 751.1C1156.3 754.9 1272.2 756.8 1388.1 756.8C1504.4 756.8 1620.7 601.1 1737.0 445.3" stroke="#ef9442"/><path d="M692.5 388.1C808.5 573.0 924.4 758.0 1040.4 758.0C1156.3 758.0 1272.2 614.7 1388.1 563.2C1504.4 511.5 1620.7 480.2 1737.0 448.8" stroke="#e8844a"/><path d="M692.5 509.7C808.5 643.3 924.4 776.8 1040.4 776.8C1156.3 776.8 1272.2 402.8 1388.1 402.8C1504.4 402.8 1620.7 429.4 1737.0 455.9" stroke="#e8844a"/><path d="M692.5 663.9C808.5 684.0 924.4 704.2 1040.4 704.2C1156.3 704.2 1272.2 695.4 1388.1 677.8C1504.4 660.2 1620.7 575.1 1737.0 490.0" stroke="#e27850"/><path d="M692.5 403.2C808.5 454.6 924.4 506.0 1040.4 556.8C1156.3 607.5 1272.2 707.6 1388.1 707.6C1504.4 707.6 1620.7 615.4 1737.0 523.2" stroke="#ce5a6c"/><path d="M692.5 398.1C808.5 392.8 924.4 387.5 1040.4 387.5C1156.3 387.5 1272.2 718.8 1388.1 718.8C1504.4 718.8 1620.7 660.2 1737.0 601.6" stroke="#a3358f"/><path d="M692.5 777.9C808.5 601.2 924.4 424.6 1040.4 424.6C1156.3 424.6 1272.2 438.0 1388.1 464.8C1504.4 491.7 1620.7 561.2 1737.0 630.7" stroke="#9226a0"/><path d="M692.5 382.5C808.5 382.6 924.4 382.7 1040.4 383.0C1156.3 383.2 1272.2 422.5 1388.1 456.9C1504.4 491.5 1620.7 540.8 1737.0 590.1" stroke="#a3358f"/><path d="M692.5 616.5C808.5 496.5 924.4 376.5 1040.4 376.5C1156.3 376.5 1272.2 434.3 1388.1 479.8C1504.4 525.6 1620.7 588.2 1737.0 650.7" stroke="#7a1aa6"/><path d="M692.5 381.5C808.5 418.2 924.4 454.9 1040.4 478.5C1156.3 502.0 1272.2 522.8 1388.1 522.8C1504.4 522.8 1620.7 512.5 1737.0 502.3" stroke="#d8675c"/><path d="M692.5 376.2C808.5 387.1 924.4 398.0 1040.4 441.8C1156.3 485.4 1272.2 647.1 1388.1 647.1C1504.4 647.1 1620.7 633.2 1737.0 619.3" stroke="#9226a0"/><path d="M692.5 387.8C808.5 402.0 924.4 416.2 1040.4 470.2C1156.3 524.2 1272.2 711.8 1388.1 711.8C1504.4 711.8 1620.7 653.0 1737.0 594.2" stroke="#a3358f"/><path d="M692.5 471.8C808.5 480.7 924.4 489.6 1040.4 525.2C1156.3 560.7 1272.2 712.4 1388.1 712.4C1504.4 712.4 1620.7 573.2 1737.0 434.1" stroke="#ef9442"/><path d="M692.5 373.0C808.5 458.6 924.4 544.2 1040.4 544.2C1156.3 544.2 1272.2 485.4 1388.1 466.2C1504.4 446.8 1620.7 437.7 1737.0 428.5" stroke="#f39a3a"/><path d="M692.5 402.8C808.5 411.4 924.4 420.0 1040.4 454.3C1156.3 488.6 1272.2 658.4 1388.1 658.4C1504.4 658.4 1620.7 640.4 1737.0 622.4" stroke="#9226a0"/><path d="M692.5 383.1C808.5 566.0 924.4 748.8 1040.4 748.8C1156.3 748.8 1272.2 501.4 1388.1 482.4C1504.4 463.3 1620.7 458.5 1737.0 453.8" stroke="#e8844a"/><path d="M692.5 389.8C808.5 465.8 924.4 541.8 1040.4 588.1C1156.3 634.5 1272.2 667.9 1388.1 667.9C1504.4 667.9 1620.7 525.9 1737.0 383.9" stroke="#f5b02f"/><path d="M692.5 718.3C808.5 543.6 924.4 369.0 1040.4 369.0C1156.3 369.0 1272.2 479.8 1388.1 515.9C1504.4 552.2 1620.7 569.0 1737.0 585.9" stroke="#a3358f"/><path d="M692.5 394.7C808.5 391.1 924.4 387.4 1040.4 387.4C1156.3 387.4 1272.2 441.7 1388.1 482.5C1504.4 523.5 1620.7 578.3 1737.0 633.1" stroke="#7a1aa6"/><path d="M692.5 410.3C808.5 582.1 924.4 754.0 1040.4 754.0C1156.3 754.0 1272.2 665.6 1388.1 616.2C1504.4 566.6 1620.7 511.7 1737.0 456.9" stroke="#e8844a"/><path d="M692.5 779.5C808.5 675.9 924.4 572.3 1040.4 572.3C1156.3 572.3 1272.2 720.7 1388.1 720.7C1504.4 720.7 1620.7 583.9 1737.0 447.1" stroke="#e8844a"/><path d="M692.5 410.6C808.5 413.5 924.4 416.4 1040.4 428.0C1156.3 439.7 1272.2 485.5 1388.1 504.4C1504.4 523.4 1620.7 532.5 1737.0 541.5" stroke="#b84482"/><path d="M692.5 403.5C808.5 527.8 924.4 652.1 1040.4 652.1C1156.3 652.1 1272.2 630.5 1388.1 606.2C1504.4 581.9 1620.7 544.0 1737.0 506.1" stroke="#d8675c"/><path d="M692.5 373.5C808.5 392.6 924.4 411.7 1040.4 411.7C1156.3 411.7 1272.2 382.0 1388.1 382.0C1504.4 382.0 1620.7 493.0 1737.0 604.0" stroke="#a3358f"/><path d="M692.5 778.4C808.5 724.9 924.4 671.4 1040.4 621.2C1156.3 571.0 1272.2 478.5 1388.1 477.2C1504.4 475.9 1620.7 475.6 1737.0 475.2" stroke="#e27850"/><path d="M692.5 390.9C808.5 475.5 924.4 560.1 1040.4 560.1C1156.3 560.1 1272.2 423.1 1388.1 423.1C1504.4 423.1 1620.7 559.3 1737.0 695.4" stroke="#5c15a3"/><path d="M692.5 375.6C808.5 575.2 924.4 774.7 1040.4 774.7C1156.3 774.7 1272.2 649.9 1388.1 599.0C1504.4 547.9 1620.7 508.4 1737.0 468.8" stroke="#e8844a"/><path d="M692.5 408.6C808.5 470.6 924.4 532.6 1040.4 532.6C1156.3 532.6 1272.2 457.4 1388.1 457.4C1504.4 457.4 1620.7 467.4 1737.0 477.4" stroke="#e27850"/><path d="M692.5 458.5C808.5 615.6 924.4 772.7 1040.4 772.7C1156.3 772.7 1272.2 722.3 1388.1 665.7C1504.4 608.9 1620.7 520.4 1737.0 431.9" stroke="#ef9442"/><path d="M692.5 501.2C808.5 440.2 924.4 379.2 1040.4 379.2C1156.3 379.2 1272.2 381.0 1388.1 384.7C1504.4 388.4 1620.7 533.9 1737.0 679.5" stroke="#7a1aa6"/><path d="M692.5 766.2C808.5 686.0 924.4 605.8 1040.4 605.8C1156.3 605.8 1272.2 769.0 1388.1 769.0C1504.4 769.0 1620.7 682.0 1737.0 595.1" stroke="#a3358f"/><path d="M692.5 580.4C808.5 578.1 924.4 575.8 1040.4 566.6C1156.3 557.4 1272.2 373.9 1388.1 373.9C1504.4 373.9 1620.7 486.5 1737.0 599.0" stroke="#a3358f"/><path d="M692.5 432.0C808.5 466.6 924.4 501.1 1040.4 501.1C1156.3 501.1 1272.2 416.9 1388.1 416.9C1504.4 416.9 1620.7 501.5 1737.0 586.2" stroke="#a3358f"/><path d="M692.5 402.5C808.5 577.3 924.4 752.0 1040.4 752.0C1156.3 752.0 1272.2 549.4 1388.1 504.8C1504.4 460.1 1620.7 448.9 1737.0 437.7" stroke="#ef9442"/><path d="M692.5 387.0C808.5 378.2 924.4 369.3 1040.4 369.3C1156.3 369.3 1272.2 482.8 1388.1 530.5C1504.4 578.4 1620.7 617.1 1737.0 655.8" stroke="#7a1aa6"/><path d="M692.5 388.6C808.5 507.3 924.4 626.0 1040.4 626.0C1156.3 626.0 1272.2 616.7 1388.1 598.0C1504.4 579.2 1620.7 529.1 1737.0 479.0" stroke="#e27850"/><path d="M692.5 402.4C808.5 401.0 924.4 399.5 1040.4 399.5C1156.3 399.5 1272.2 571.4 1388.1 576.6C1504.4 581.8 1620.7 583.1 1737.0 584.4" stroke="#a3358f"/><path d="M692.5 693.4C808.5 663.7 924.4 634.0 1040.4 634.0C1156.3 634.0 1272.2 640.6 1388.1 640.6C1504.4 640.6 1620.7 605.3 1737.0 569.9" stroke="#b84482"/><path d="M692.5 400.6C808.5 446.5 924.4 492.3 1040.4 549.3C1156.3 606.1 1272.2 741.9 1388.1 741.9C1504.4 741.9 1620.7 576.6 1737.0 411.4" stroke="#f39a3a"/><path d="M692.5 718.4C808.5 604.4 924.4 490.4 1040.4 487.1C1156.3 483.9 1272.2 482.3 1388.1 482.3C1504.4 482.3 1620.7 508.2 1737.0 534.1" stroke="#ce5a6c"/><path d="M692.5 458.9C808.5 611.7 924.4 764.6 1040.4 764.6C1156.3 764.6 1272.2 505.2 1388.1 485.0C1504.4 464.8 1620.7 459.7 1737.0 454.7" stroke="#e8844a"/><path d="M692.5 394.8C808.5 401.2 924.4 407.6 1040.4 418.7C1156.3 429.9 1272.2 433.1 1388.1 461.8C1504.4 490.6 1620.7 559.4 1737.0 628.1" stroke="#9226a0"/><path d="M692.5 532.2C808.5 609.9 924.4 687.6 1040.4 687.6C1156.3 687.6 1272.2 665.5 1388.1 626.2C1504.4 586.7 1620.7 518.8 1737.0 450.9" stroke="#e8844a"/><path d="M692.5 562.6C808.5 516.9 924.4 471.3 1040.4 451.1C1156.3 431.0 1272.2 421.0 1388.1 421.0C1504.4 421.0 1620.7 505.4 1737.0 589.8" stroke="#a3358f"/><path d="M692.5 375.4C808.5 561.4 924.4 747.4 1040.4 747.4C1156.3 747.4 1272.2 604.1 1388.1 556.5C1504.4 508.7 1620.7 485.2 1737.0 461.6" stroke="#e8844a"/><path d="M692.5 396.5C808.5 417.5 924.4 438.6 1040.4 438.6C1156.3 438.6 1272.2 387.5 1388.1 387.5C1504.4 387.5 1620.7 489.9 1737.0 592.4" stroke="#a3358f"/><path d="M692.5 404.2C808.5 526.2 924.4 648.2 1040.4 648.2C1156.3 648.2 1272.2 615.8 1388.1 588.6C1504.4 561.4 1620.7 523.1 1737.0 484.9" stroke="#e27850"/><path d="M692.5 391.5C808.5 386.4 924.4 381.3 1040.4 381.3C1156.3 381.3 1272.2 690.5 1388.1 690.5C1504.4 690.5 1620.7 646.3 1737.0 602.1" stroke="#a3358f"/><path d="M692.5 746.2C808.5 571.8 924.4 397.4 1040.4 397.4C1156.3 397.4 1272.2 739.3 1388.1 739.3C1504.4 739.3 1620.7 685.9 1737.0 632.5" stroke="#9226a0"/><path d="M692.5 747.3C808.5 687.1 924.4 626.9 1040.4 626.9C1156.3 626.9 1272.2 668.2 1388.1 668.2C1504.4 668.2 1620.7 551.9 1737.0 435.6" stroke="#ef9442"/><path d="M692.5 587.4C808.5 523.9 924.4 460.4 1040.4 460.4C1156.3 460.4 1272.2 463.2 1388.1 468.9C1504.4 474.6 1620.7 546.4 1737.0 618.3" stroke="#9226a0"/><path d="M692.5 750.0C808.5 699.8 924.4 649.7 1040.4 613.7C1156.3 577.7 1272.2 547.1 1388.1 534.2C1504.4 521.2 1620.7 518.0 1737.0 514.8" stroke="#d8675c"/><path d="M692.5 731.2C808.5 602.5 924.4 473.7 1040.4 447.3C1156.3 420.9 1272.2 407.7 1388.1 407.7C1504.4 407.7 1620.7 502.9 1737.0 598.1" stroke="#a3358f"/><path d="M692.5 410.1C808.5 534.8 924.4 659.4 1040.4 659.4C1156.3 659.4 1272.2 649.8 1388.1 630.7C1504.4 611.4 1620.7 504.2 1737.0 396.9" stroke="#f5b02f"/><path d="M692.5 471.4C808.5 479.8 924.4 488.2 1040.4 521.9C1156.3 555.6 1272.2 683.8 1388.1 683.8C1504.4 683.8 1620.7 674.5 1737.0 665.2" stroke="#7a1aa6"/><path d="M692.5 388.6C808.5 539.5 924.4 690.4 1040.4 705.8C1156.3 721.1 1272.2 728.7 1388.1 728.7C1504.4 728.7 1620.7 578.0 1737.0 427.2" stroke="#f39a3a"/><path d="M692.5 400.1C808.5 585.1 924.4 770.1 1040.4 770.1C1156.3 770.1 1272.2 478.4 1388.1 444.8C1504.4 411.1 1620.7 402.7 1737.0 394.2" stroke="#f5b02f"/><path d="M692.5 541.9C808.5 495.1 924.4 448.2 1040.4 448.2C1156.3 448.2 1272.2 580.7 1388.1 580.7C1504.4 580.7 1620.7 550.2 1737.0 519.7" stroke="#ce5a6c"/><path d="M692.5 621.5C808.5 633.5 924.4 645.5 1040.4 645.5C1156.3 645.5 1272.2 549.2 1388.1 518.3C1504.4 487.2 1620.7 473.5 1737.0 459.7" stroke="#e8844a"/><path d="M692.5 757.5C808.5 684.9 924.4 612.3 1040.4 571.9C1156.3 531.5 1272.2 520.0 1388.1 511.3C1504.4 502.5 1620.7 500.4 1737.0 498.2" stroke="#e27850"/><path d="M692.5 751.9C808.5 665.4 924.4 578.9 1040.4 578.9C1156.3 578.9 1272.2 648.3 1388.1 648.3C1504.4 648.3 1620.7 626.7 1737.0 605.1" stroke="#a3358f"/><path d="M692.5 374.4C808.5 386.6 924.4 398.7 1040.4 447.4C1156.3 496.0 1272.2 728.0 1388.1 728.0C1504.4 728.0 1620.7 645.6 1737.0 563.2" stroke="#b84482"/><path d="M692.5 405.8C808.5 554.1 924.4 702.4 1040.4 702.4C1156.3 702.4 1272.2 487.9 1388.1 449.4C1504.4 410.7 1620.7 401.1 1737.0 391.4" stroke="#f5b02f"/><path d="M692.5 616.4C808.5 580.3 924.4 544.2 1040.4 518.3C1156.3 492.3 1272.2 460.8 1388.1 460.8C1504.4 460.8 1620.7 516.2 1737.0 571.7" stroke="#b84482"/><path d="M692.5 383.2C808.5 486.0 924.4 588.8 1040.4 588.8C1156.3 588.8 1272.2 506.9 1388.1 506.9C1504.4 506.9 1620.7 536.8 1737.0 566.7" stroke="#b84482"/><path d="M692.5 574.5C808.5 614.2 924.4 653.8 1040.4 653.8C1156.3 653.8 1272.2 405.8 1388.1 405.8C1504.4 405.8 1620.7 442.2 1737.0 478.6" stroke="#e27850"/><path d="M692.5 761.8C808.5 718.3 924.4 674.7 1040.4 609.7C1156.3 544.9 1272.2 372.5 1388.1 372.5C1504.4 372.5 1620.7 398.4 1737.0 424.3" stroke="#f39a3a"/><path d="M692.5 750.4C808.5 567.1 924.4 383.8 1040.4 383.8C1156.3 383.8 1272.2 615.4 1388.1 615.4C1504.4 615.4 1620.7 602.7 1737.0 590.1" stroke="#a3358f"/><path d="M692.5 763.8C808.5 766.5 924.4 769.2 1040.4 769.2C1156.3 769.2 1272.2 660.7 1388.1 608.2C1504.4 555.4 1620.7 504.5 1737.0 453.5" stroke="#e8844a"/><path d="M692.5 768.9C808.5 656.9 924.4 545.0 1040.4 545.0C1156.3 545.0 1272.2 660.7 1388.1 660.7C1504.4 660.7 1620.7 558.2 1737.0 455.6" stroke="#e8844a"/><path d="M692.5 772.0C808.5 728.5 924.4 685.1 1040.4 643.8C1156.3 602.7 1272.2 567.7 1388.1 524.7C1504.4 481.6 1620.7 433.4 1737.0 385.3" stroke="#f5b02f"/><path d="M692.5 721.4C808.5 577.2 924.4 433.0 1040.4 419.7C1156.3 406.5 1272.2 399.9 1388.1 399.9C1504.4 399.9 1620.7 517.9 1737.0 635.9" stroke="#7a1aa6"/><path d="M692.5 539.7C808.5 638.4 924.4 737.1 1040.4 737.1C1156.3 737.1 1272.2 651.1 1388.1 600.8C1504.4 550.3 1620.7 492.3 1737.0 434.4" stroke="#ef9442"/><path d="M692.5 382.6C808.5 379.7 924.4 376.8 1040.4 376.8C1156.3 376.8 1272.2 633.5 1388.1 633.5C1504.4 633.5 1620.7 629.2 1737.0 624.9" stroke="#9226a0"/><path d="M692.5 748.3C808.5 761.9 924.4 775.4 1040.4 775.4C1156.3 775.4 1272.2 512.2 1388.1 475.0C1504.4 437.6 1620.7 428.3 1737.0 419.0" stroke="#f39a3a"/><path d="M692.5 381.0C808.5 461.4 924.4 541.7 1040.4 541.7C1156.3 541.7 1272.2 398.0 1388.1 398.0C1504.4 398.0 1620.7 434.8 1737.0 471.5" stroke="#e8844a"/><path d="M692.5 781.3C808.5 719.5 924.4 657.8 1040.4 657.8C1156.3 657.8 1272.2 707.7 1388.1 707.7C1504.4 707.7 1620.7 604.9 1737.0 502.1" stroke="#d8675c"/><path d="M692.5 753.7C808.5 600.4 924.4 447.0 1040.4 447.0C1156.3 447.0 1272.2 611.0 1388.1 611.0C1504.4 611.0 1620.7 609.9 1737.0 608.9" stroke="#9226a0"/><path d="M692.5 701.1C808.5 552.5 924.4 403.9 1040.4 403.9C1156.3 403.9 1272.2 411.7 1388.1 427.4C1504.4 443.1 1620.7 523.9 1737.0 604.7" stroke="#a3358f"/><path d="M692.5 492.5C808.5 469.3 924.4 446.2 1040.4 425.8C1156.3 405.4 1272.2 370.0 1388.1 370.0C1504.4 370.0 1620.7 455.6 1737.0 541.2" stroke="#b84482"/><path d="M692.5 385.4C808.5 496.5 924.4 607.5 1040.4 607.5C1156.3 607.5 1272.2 597.3 1388.1 576.9C1504.4 556.4 1620.7 515.2 1737.0 474.0" stroke="#e27850"/><path d="M692.5 389.9C808.5 437.1 924.4 484.3 1040.4 484.3C1156.3 484.3 1272.2 434.3 1388.1 434.3C1504.4 434.3 1620.7 504.0 1737.0 573.7" stroke="#b84482"/><path d="M692.5 776.2C808.5 611.3 924.4 446.5 1040.4 446.5C1156.3 446.5 1272.2 492.9 1388.1 532.6C1504.4 572.4 1620.7 628.9 1737.0 685.3" stroke="#5c15a3"/><path d="M692.5 407.7C808.5 553.4 924.4 699.1 1040.4 699.1C1156.3 699.1 1272.2 574.2 1388.1 550.5C1504.4 526.8 1620.7 520.8 1737.0 514.9" stroke="#d8675c"/><path d="M692.5 752.1C808.5 670.6 924.4 589.1 1040.4 589.1C1156.3 589.1 1272.2 633.2 1388.1 633.2C1504.4 633.2 1620.7 513.3 1737.0 393.3" stroke="#f5b02f"/><path d="M692.5 701.7C808.5 696.5 924.4 691.2 1040.4 670.2C1156.3 649.2 1272.2 390.2 1388.1 390.2C1504.4 390.2 1620.7 482.6 1737.0 575.0" stroke="#a3358f"/><path d="M692.5 372.9C808.5 565.7 924.4 758.6 1040.4 758.6C1156.3 758.6 1272.2 633.5 1388.1 579.1C1504.4 524.5 1620.7 478.2 1737.0 431.9" stroke="#ef9442"/><path d="M692.5 428.2C808.5 598.9 924.4 769.7 1040.4 769.7C1156.3 769.7 1272.2 685.4 1388.1 623.8C1504.4 562.0 1620.7 480.7 1737.0 399.3" stroke="#f5b02f"/><path d="M692.5 777.7C808.5 715.7 924.4 653.7 1040.4 613.0C1156.3 572.4 1272.2 534.0 1388.1 534.0C1504.4 534.0 1620.7 552.8 1737.0 571.6" stroke="#b84482"/><path d="M692.5 564.2C808.5 629.4 924.4 694.6 1040.4 694.6C1156.3 694.6 1272.2 547.4 1388.1 500.6C1504.4 453.7 1620.7 433.9 1737.0 414.0" stroke="#f39a3a"/><path d="M692.5 757.9C808.5 757.2 924.4 756.6 1040.4 754.0C1156.3 751.4 1272.2 434.0 1388.1 434.0C1504.4 434.0 1620.7 450.4 1737.0 466.7" stroke="#e8844a"/><path d="M692.5 759.1C808.5 758.3 924.4 757.4 1040.4 754.1C1156.3 750.8 1272.2 690.1 1388.1 632.0C1504.4 573.7 1620.7 489.3 1737.0 404.8" stroke="#f39a3a"/><path d="M692.5 754.7C808.5 608.2 924.4 461.8 1040.4 461.8C1156.3 461.8 1272.2 466.6 1388.1 476.3C1504.4 486.1 1620.7 524.5 1737.0 563.0" stroke="#b84482"/><path d="M692.5 386.7C808.5 457.7 924.4 528.7 1040.4 528.7C1156.3 528.7 1272.2 419.5 1388.1 419.5C1504.4 419.5 1620.7 426.5 1737.0 433.5" stroke="#ef9442"/><path d="M692.5 394.0C808.5 554.3 924.4 714.5 1040.4 714.5C1156.3 714.5 1272.2 561.8 1388.1 555.9C1504.4 549.9 1620.7 548.4 1737.0 546.9" stroke="#b84482"/><path d="M692.5 422.1C808.5 427.2 924.4 432.2 1040.4 452.6C1156.3 472.9 1272.2 616.0 1388.1 616.0C1504.4 616.0 1620.7 565.4 1737.0 514.7" stroke="#d8675c"/><path d="M692.5 526.9C808.5 475.3 924.4 423.8 1040.4 423.8C1156.3 423.8 1272.2 747.3 1388.1 747.3C1504.4 747.3 1620.7 690.4 1737.0 633.4" stroke="#7a1aa6"/><path d="M692.5 392.2C808.5 528.3 924.4 664.4 1040.4 664.4C1156.3 664.4 1272.2 380.0 1388.1 380.0C1504.4 380.0 1620.7 457.3 1737.0 534.7" stroke="#ce5a6c"/><path d="M692.5 705.0C808.5 681.9 924.4 658.8 1040.4 626.4C1156.3 594.1 1272.2 543.1 1388.1 511.0C1504.4 478.8 1620.7 456.3 1737.0 433.8" stroke="#ef9442"/><path d="M692.5 569.8C808.5 658.4 924.4 747.0 1040.4 747.0C1156.3 747.0 1272.2 679.0 1388.1 630.8C1504.4 582.4 1620.7 519.6 1737.0 456.8" stroke="#e8844a"/><path d="M692.5 751.2C808.5 661.8 924.4 572.4 1040.4 514.2C1156.3 456.0 1272.2 402.1 1388.1 402.1C1504.4 402.1 1620.7 454.8 1737.0 507.4" stroke="#d8675c"/><path d="M692.5 559.9C808.5 496.5 924.4 433.1 1040.4 433.1C1156.3 433.1 1272.2 711.9 1388.1 711.9C1504.4 711.9 1620.7 632.5 1737.0 553.0" stroke="#b84482"/><path d="M692.5 754.3C808.5 594.2 924.4 434.0 1040.4 434.0C1156.3 434.0 1272.2 644.8 1388.1 644.8C1504.4 644.8 1620.7 620.8 1737.0 596.8" stroke="#a3358f"/><path d="M692.5 413.5C808.5 495.5 924.4 577.4 1040.4 632.5C1156.3 687.6 1272.2 744.1 1388.1 744.1C1504.4 744.1 1620.7 618.8 1737.0 493.4" stroke="#e27850"/><path d="M692.5 561.1C808.5 647.1 924.4 733.0 1040.4 733.0C1156.3 733.0 1272.2 584.1 1388.1 538.0C1504.4 491.6 1620.7 473.8 1737.0 455.9" stroke="#e8844a"/><path d="M692.5 624.6C808.5 592.3 924.4 560.1 1040.4 532.8C1156.3 505.5 1272.2 461.0 1388.1 461.0C1504.4 461.0 1620.7 492.2 1737.0 523.4" stroke="#ce5a6c"/><path d="M692.5 758.7C808.5 605.4 924.4 452.1 1040.4 452.1C1156.3 452.1 1272.2 568.1 1388.1 621.1C1504.4 674.3 1620.7 722.4 1737.0 770.5" stroke="#1c0f60"/><path d="M692.5 766.9C808.5 741.7 924.4 716.6 1040.4 686.3C1156.3 655.9 1272.2 599.0 1388.1 584.8C1504.4 570.6 1620.7 567.1 1737.0 563.5" stroke="#b84482"/><path d="M692.5 772.9C808.5 733.3 924.4 693.7 1040.4 638.1C1156.3 582.5 1272.2 446.8 1388.1 439.4C1504.4 432.0 1620.7 430.2 1737.0 428.3" stroke="#f39a3a"/><path d="M692.5 393.0C808.5 554.0 924.4 715.0 1040.4 715.0C1156.3 715.0 1272.2 546.9 1388.1 497.4C1504.4 447.8 1620.7 432.9 1737.0 418.1" stroke="#f39a3a"/><path d="M692.5 390.6C808.5 575.6 924.4 760.6 1040.4 760.6C1156.3 760.6 1272.2 714.7 1388.1 659.8C1504.4 604.8 1620.7 517.6 1737.0 430.3" stroke="#f39a3a"/><path d="M692.5 405.6C808.5 517.4 924.4 629.2 1040.4 629.2C1156.3 629.2 1272.2 437.1 1388.1 437.1C1504.4 437.1 1620.7 472.2 1737.0 507.2" stroke="#d8675c"/><path d="M692.5 570.9C808.5 595.7 924.4 620.6 1040.4 620.6C1156.3 620.6 1272.2 504.1 1388.1 504.1C1504.4 504.1 1620.7 508.7 1737.0 513.2" stroke="#d8675c"/><path d="M692.5 710.0C808.5 578.8 924.4 447.6 1040.4 447.6C1156.3 447.6 1272.2 766.3 1388.1 766.3C1504.4 766.3 1620.7 709.9 1737.0 653.6" stroke="#7a1aa6"/><path d="M692.5 428.6C808.5 403.1 924.4 377.7 1040.4 377.7C1156.3 377.7 1272.2 566.6 1388.1 584.7C1504.4 602.9 1620.7 607.4 1737.0 612.0" stroke="#9226a0"/><path d="M692.5 660.3C808.5 609.2 924.4 558.1 1040.4 558.1C1156.3 558.1 1272.2 573.1 1388.1 573.1C1504.4 573.1 1620.7 526.4 1737.0 479.8" stroke="#e27850"/><path d="M692.5 377.4C808.5 499.1 924.4 620.8 1040.4 663.8C1156.3 706.8 1272.2 728.2 1388.1 728.2C1504.4 728.2 1620.7 575.2 1737.0 422.1" stroke="#f39a3a"/><path d="M692.5 762.7C808.5 601.9 924.4 441.1 1040.4 441.1C1156.3 441.1 1272.2 443.1 1388.1 447.2C1504.4 451.3 1620.7 466.8 1737.0 482.3" stroke="#e27850"/><path d="M692.5 393.8C808.5 464.1 924.4 534.3 1040.4 583.0C1156.3 631.6 1272.2 685.7 1388.1 685.7C1504.4 685.7 1620.7 639.5 1737.0 593.2" stroke="#a3358f"/><path d="M692.5 749.6C808.5 596.8 924.4 444.0 1040.4 444.0C1156.3 444.0 1272.2 562.0 1388.1 588.2C1504.4 614.4 1620.7 621.0 1737.0 627.6" stroke="#9226a0"/><path d="M692.5 403.9C808.5 412.1 924.4 420.2 1040.4 452.8C1156.3 485.3 1272.2 751.4 1388.1 751.4C1504.4 751.4 1620.7 634.6 1737.0 517.9" stroke="#d8675c"/><path d="M692.5 428.9C808.5 511.4 924.4 593.9 1040.4 593.9C1156.3 593.9 1272.2 370.9 1388.1 370.9C1504.4 370.9 1620.7 454.9 1737.0 538.9" stroke="#ce5a6c"/><path d="M692.5 764.1C808.5 733.5 924.4 702.9 1040.4 678.6C1156.3 654.4 1272.2 658.6 1388.1 618.6C1504.4 578.5 1620.7 498.1 1737.0 417.8" stroke="#f39a3a"/><path d="M692.5 386.8C808.5 552.4 924.4 718.0 1040.4 727.4C1156.3 736.8 1272.2 741.5 1388.1 741.5C1504.4 741.5 1620.7 602.7 1737.0 463.8" stroke="#e8844a"/><path d="M692.5 576.0C808.5 557.1 924.4 538.2 1040.4 538.2C1156.3 538.2 1272.2 605.0 1388.1 605.0C1504.4 605.0 1620.7 589.1 1737.0 573.1" stroke="#b84482"/><path d="M692.5 590.1C808.5 687.7 924.4 785.2 1040.4 785.2C1156.3 785.2 1272.2 737.6 1388.1 675.7C1504.4 613.7 1620.7 513.3 1737.0 413.0" stroke="#f39a3a"/><path d="M692.5 759.4C808.5 760.7 924.4 762.0 1040.4 762.0C1156.3 762.0 1272.2 738.5 1388.1 691.5C1504.4 644.4 1620.7 515.0 1737.0 385.7" stroke="#f5b02f"/><path d="M692.5 386.3C808.5 529.2 924.4 672.2 1040.4 672.2C1156.3 672.2 1272.2 474.9 1388.1 474.9C1504.4 474.9 1620.7 501.6 1737.0 528.3" stroke="#ce5a6c"/><path d="M692.5 527.3C808.5 536.3 924.4 545.3 1040.4 557.1C1156.3 569.0 1272.2 598.6 1388.1 598.6C1504.4 598.6 1620.7 587.1 1737.0 575.6" stroke="#a3358f"/><path d="M692.5 729.6C808.5 725.3 924.4 721.0 1040.4 703.8C1156.3 686.6 1272.2 395.1 1388.1 395.1C1504.4 395.1 1620.7 482.4 1737.0 569.6" stroke="#b84482"/><path d="M692.5 621.3C808.5 660.5 924.4 699.8 1040.4 722.4C1156.3 745.0 1272.2 756.9 1388.1 756.9C1504.4 756.9 1620.7 612.8 1737.0 468.7" stroke="#e8844a"/><path d="M692.5 379.5C808.5 546.9 924.4 714.3 1040.4 714.3C1156.3 714.3 1272.2 574.2 1388.1 528.3C1504.4 482.2 1620.7 460.5 1737.0 438.7" stroke="#ef9442"/><path d="M692.5 626.2C808.5 527.9 924.4 429.5 1040.4 429.5C1156.3 429.5 1272.2 716.9 1388.1 716.9C1504.4 716.9 1620.7 654.2 1737.0 591.4" stroke="#a3358f"/><path d="M692.5 391.2C808.5 391.5 924.4 391.7 1040.4 392.8C1156.3 393.9 1272.2 624.2 1388.1 624.2C1504.4 624.2 1620.7 610.0 1737.0 595.9" stroke="#a3358f"/><path d="M692.5 571.2C808.5 495.8 924.4 420.4 1040.4 420.4C1156.3 420.4 1272.2 724.4 1388.1 724.4C1504.4 724.4 1620.7 660.7 1737.0 597.0" stroke="#a3358f"/><path d="M692.5 769.9C808.5 773.8 924.4 777.8 1040.4 777.8C1156.3 777.8 1272.2 751.4 1388.1 698.6C1504.4 645.6 1620.7 522.6 1737.0 399.6" stroke="#f5b02f"/><path d="M692.5 769.2C808.5 592.3 924.4 415.3 1040.4 415.3C1156.3 415.3 1272.2 712.6 1388.1 712.6C1504.4 712.6 1620.7 666.3 1737.0 620.0" stroke="#9226a0"/><path d="M692.5 395.5C808.5 433.5 924.4 471.5 1040.4 471.5C1156.3 471.5 1272.2 399.7 1388.1 399.7C1504.4 399.7 1620.7 498.2 1737.0 596.6" stroke="#a3358f"/><path d="M692.5 709.4C808.5 718.3 924.4 727.1 1040.4 727.1C1156.3 727.1 1272.2 597.6 1388.1 578.1C1504.4 558.6 1620.7 553.7 1737.0 548.8" stroke="#b84482"/><path d="M692.5 776.0C808.5 726.1 924.4 676.2 1040.4 613.0C1156.3 549.7 1272.2 396.4 1388.1 396.4C1504.4 396.4 1620.7 450.8 1737.0 505.2" stroke="#d8675c"/><path d="M692.5 414.0C808.5 549.8 924.4 685.7 1040.4 704.8C1156.3 723.8 1272.2 733.4 1388.1 733.4C1504.4 733.4 1620.7 617.9 1737.0 502.3" stroke="#d8675c"/><path d="M692.5 772.0C808.5 589.7 924.4 407.5 1040.4 407.5C1156.3 407.5 1272.2 501.8 1388.1 542.1C1504.4 582.5 1620.7 616.0 1737.0 649.5" stroke="#7a1aa6"/><path d="M692.5 480.2C808.5 534.6 924.4 589.0 1040.4 608.5C1156.3 627.9 1272.2 637.6 1388.1 637.6C1504.4 637.6 1620.7 524.2 1737.0 410.8" stroke="#f39a3a"/><path d="M692.5 684.1C808.5 581.4 924.4 478.6 1040.4 478.6C1156.3 478.6 1272.2 651.1 1388.1 651.1C1504.4 651.1 1620.7 602.1 1737.0 553.1" stroke="#b84482"/><path d="M692.5 466.3C808.5 543.0 924.4 619.7 1040.4 619.7C1156.3 619.7 1272.2 558.4 1388.1 536.8C1504.4 515.0 1620.7 502.3 1737.0 489.6" stroke="#e27850"/><path d="M692.5 397.1C808.5 467.2 924.4 537.2 1040.4 537.2C1156.3 537.2 1272.2 487.7 1388.1 479.1C1504.4 470.4 1620.7 468.3 1737.0 466.1" stroke="#e8844a"/><path d="M692.5 390.4C808.5 413.5 924.4 436.5 1040.4 461.4C1156.3 486.2 1272.2 512.6 1388.1 539.4C1504.4 566.4 1620.7 594.7 1737.0 622.9" stroke="#9226a0"/><path d="M692.5 379.0C808.5 392.7 924.4 406.4 1040.4 448.3C1156.3 490.3 1272.2 580.3 1388.1 630.6C1504.4 681.0 1620.7 715.6 1737.0 750.2" stroke="#2c1480"/><path d="M692.5 777.4C808.5 779.2 924.4 781.0 1040.4 781.0C1156.3 781.0 1272.2 736.2 1388.1 679.7C1504.4 623.0 1620.7 532.0 1737.0 441.0" stroke="#ef9442"/><path d="M692.5 393.6C808.5 455.0 924.4 516.4 1040.4 516.4C1156.3 516.4 1272.2 430.2 1388.1 430.2C1504.4 430.2 1620.7 495.8 1737.0 561.5" stroke="#b84482"/><path d="M692.5 379.0C808.5 569.2 924.4 759.4 1040.4 759.4C1156.3 759.4 1272.2 608.8 1388.1 552.8C1504.4 496.6 1620.7 459.8 1737.0 423.1" stroke="#f39a3a"/><path d="M692.5 393.2C808.5 582.7 924.4 772.3 1040.4 772.3C1156.3 772.3 1272.2 725.7 1388.1 663.2C1504.4 600.5 1620.7 498.3 1737.0 396.1" stroke="#f5b02f"/><path d="M692.5 386.7C808.5 424.2 924.4 461.8 1040.4 461.8C1156.3 461.8 1272.2 370.1 1388.1 370.1C1504.4 370.1 1620.7 459.7 1737.0 549.4" stroke="#b84482"/><path d="M692.5 409.5C808.5 428.9 924.4 448.2 1040.4 477.2C1156.3 506.2 1272.2 548.4 1388.1 583.5C1504.4 618.7 1620.7 653.3 1737.0 687.9" stroke="#5c15a3"/><path d="M692.5 684.8C808.5 699.7 924.4 714.6 1040.4 714.6C1156.3 714.6 1272.2 489.6 1388.1 489.6C1504.4 489.6 1620.7 510.9 1737.0 532.2" stroke="#ce5a6c"/><path d="M692.5 565.1C808.5 514.7 924.4 464.3 1040.4 464.3C1156.3 464.3 1272.2 552.4 1388.1 578.0C1504.4 603.6 1620.7 610.7 1737.0 617.7" stroke="#9226a0"/><path d="M692.5 635.3C808.5 701.7 924.4 768.1 1040.4 768.1C1156.3 768.1 1272.2 626.4 1388.1 575.5C1504.4 524.5 1620.7 493.4 1737.0 462.4" stroke="#e8844a"/><path d="M692.5 637.6C808.5 591.0 924.4 544.4 1040.4 544.4C1156.3 544.4 1272.2 681.2 1388.1 681.2C1504.4 681.2 1620.7 572.4 1737.0 463.6" stroke="#e8844a"/><path d="M692.5 498.1C808.5 450.7 924.4 403.2 1040.4 403.2C1156.3 403.2 1272.2 750.6 1388.1 750.6C1504.4 750.6 1620.7 691.8 1737.0 633.0" stroke="#7a1aa6"/><path d="M692.5 580.3C808.5 675.9 924.4 771.4 1040.4 771.4C1156.3 771.4 1272.2 649.5 1388.1 596.2C1504.4 542.9 1620.7 497.3 1737.0 451.7" stroke="#e8844a"/><path d="M692.5 409.8C808.5 541.8 924.4 673.8 1040.4 673.8C1156.3 673.8 1272.2 577.1 1388.1 548.0C1504.4 518.8 1620.7 508.9 1737.0 499.1" stroke="#d8675c"/><path d="M692.5 770.5C808.5 571.4 924.4 372.3 1040.4 372.3C1156.3 372.3 1272.2 754.5 1388.1 754.5C1504.4 754.5 1620.7 691.9 1737.0 629.4" stroke="#9226a0"/><path d="M692.5 775.7C808.5 748.0 924.4 720.3 1040.4 692.0C1156.3 663.6 1272.2 637.3 1388.1 605.7C1504.4 574.0 1620.7 538.1 1737.0 502.2" stroke="#d8675c"/></g><rect x="1737" y="364.0" width="44" height="40.3" fill="#f5b731"/><rect x="1737" y="403.7" width="44" height="28.1" fill="#f19c3c"/><rect x="1737" y="431.2" width="44" height="15.9" fill="#e8994a"/><rect x="1737" y="446.4" width="44" height="28.1" fill="#e4824d"/><rect x="1737" y="473.9" width="44" height="25.0" fill="#e07853"/><rect x="1737" y="498.4" width="44" height="22.0" fill="#d8675c"/><rect x="1737" y="519.7" width="44" height="22.0" fill="#ce5e6e"/><rect x="1737" y="541.1" width="44" height="34.2" fill="#c44a78"/><rect x="1737" y="574.7" width="44" height="31.1" fill="#a83b84"/><rect x="1737" y="605.2" width="44" height="28.1" fill="#9b2f97"/><rect x="1737" y="632.7" width="44" height="52.5" fill="#8a1fa0"/><rect x="1737" y="684.6" width="44" height="49.5" fill="#5c15a3"/><rect x="1737" y="733.5" width="44" height="31.1" fill="#3c149a"/><rect x="1737" y="764.0" width="44" height="28.1" fill="#2c1485"/><rect x="1736.5" y="363.5" width="45" height="428.5" fill="none" stroke="#c9cbd6" stroke-width="1.2"/><g font-family="Liberation Sans, sans-serif" fill="#444"><text x="692.5" y="341" text-anchor="middle" font-size="15.5" fill="#3a3a3a">batch_size</text><line x1="692.5" y1="364.0" x2="692.5" y2="791.5" stroke="#c9ccd2" stroke-width="1.4"/><line x1="682.5" y1="791.5" x2="692.5" y2="791.5" stroke="#c9ccd2" stroke-width="1.4"/><text x="677.5" y="796.8" text-anchor="end" font-size="15" fill="#4a4a4a" stroke="#fff" stroke-width="2.2" stroke-opacity="0.6" paint-order="stroke">60</text><line x1="682.5" y1="748.8" x2="692.5" y2="748.8" stroke="#c9ccd2" stroke-width="1.4"/><text x="677.5" y="754.0" text-anchor="end" font-size="15" fill="#4a4a4a" stroke="#fff" stroke-width="2.2" stroke-opacity="0.6" paint-order="stroke">80</text><line x1="682.5" y1="706.0" x2="692.5" y2="706.0" stroke="#c9ccd2" stroke-width="1.4"/><text x="677.5" y="711.3" text-anchor="end" font-size="15" fill="#4a4a4a" stroke="#fff" stroke-width="2.2" stroke-opacity="0.6" paint-order="stroke">100</text><line x1="682.5" y1="663.2" x2="692.5" y2="663.2" stroke="#c9ccd2" stroke-width="1.4"/><text x="677.5" y="668.5" text-anchor="end" font-size="15" fill="#4a4a4a" stroke="#fff" stroke-width="2.2" stroke-opacity="0.6" paint-order="stroke">120</text><line x1="682.5" y1="620.5" x2="692.5" y2="620.5" stroke="#c9ccd2" stroke-width="1.4"/><text x="677.5" y="625.8" text-anchor="end" font-size="15" fill="#4a4a4a" stroke="#fff" stroke-width="2.2" stroke-opacity="0.6" paint-order="stroke">140</text><line x1="682.5" y1="577.8" x2="692.5" y2="577.8" stroke="#c9ccd2" stroke-width="1.4"/><text x="677.5" y="583.0" text-anchor="end" font-size="15" fill="#4a4a4a" stroke="#fff" stroke-width="2.2" stroke-opacity="0.6" paint-order="stroke">160</text><line x1="682.5" y1="535.0" x2="692.5" y2="535.0" stroke="#c9ccd2" stroke-width="1.4"/><text x="677.5" y="540.3" text-anchor="end" font-size="15" fill="#4a4a4a" stroke="#fff" stroke-width="2.2" stroke-opacity="0.6" paint-order="stroke">180</text><line x1="682.5" y1="492.2" x2="692.5" y2="492.2" stroke="#c9ccd2" stroke-width="1.4"/><text x="677.5" y="497.6" text-anchor="end" font-size="15" fill="#4a4a4a" stroke="#fff" stroke-width="2.2" stroke-opacity="0.6" paint-order="stroke">200</text><line x1="682.5" y1="449.5" x2="692.5" y2="449.5" stroke="#c9ccd2" stroke-width="1.4"/><text x="677.5" y="454.8" text-anchor="end" font-size="15" fill="#4a4a4a" stroke="#fff" stroke-width="2.2" stroke-opacity="0.6" paint-order="stroke">220</text><line x1="682.5" y1="406.8" x2="692.5" y2="406.8" stroke="#c9ccd2" stroke-width="1.4"/><text x="677.5" y="412.1" text-anchor="end" font-size="15" fill="#4a4a4a" stroke="#fff" stroke-width="2.2" stroke-opacity="0.6" paint-order="stroke">240</text><line x1="682.5" y1="364.0" x2="692.5" y2="364.0" stroke="#c9ccd2" stroke-width="1.4"/><text x="677.5" y="369.3" text-anchor="end" font-size="15" fill="#4a4a4a" stroke="#fff" stroke-width="2.2" stroke-opacity="0.6" paint-order="stroke">260</text><text x="1040.4" y="341" text-anchor="middle" font-size="15.5" fill="#3a3a3a">dropout</text><line x1="1040.4" y1="364.0" x2="1040.4" y2="791.5" stroke="#c9ccd2" stroke-width="1.4"/><line x1="1030.4" y1="791.5" x2="1040.4" y2="791.5" stroke="#c9ccd2" stroke-width="1.4"/><text x="1025.4" y="796.8" text-anchor="end" font-size="15" fill="#4a4a4a" stroke="#fff" stroke-width="2.2" stroke-opacity="0.6" paint-order="stroke">0.10</text><line x1="1030.4" y1="761.0" x2="1040.4" y2="761.0" stroke="#c9ccd2" stroke-width="1.4"/><text x="1025.4" y="766.3" text-anchor="end" font-size="15" fill="#4a4a4a" stroke="#fff" stroke-width="2.2" stroke-opacity="0.6" paint-order="stroke">0.15</text><line x1="1030.4" y1="730.4" x2="1040.4" y2="730.4" stroke="#c9ccd2" stroke-width="1.4"/><text x="1025.4" y="735.7" text-anchor="end" font-size="15" fill="#4a4a4a" stroke="#fff" stroke-width="2.2" stroke-opacity="0.6" paint-order="stroke">0.20</text><line x1="1030.4" y1="699.9" x2="1040.4" y2="699.9" stroke="#c9ccd2" stroke-width="1.4"/><text x="1025.4" y="705.2" text-anchor="end" font-size="15" fill="#4a4a4a" stroke="#fff" stroke-width="2.2" stroke-opacity="0.6" paint-order="stroke">0.25</text><line x1="1030.4" y1="669.4" x2="1040.4" y2="669.4" stroke="#c9ccd2" stroke-width="1.4"/><text x="1025.4" y="674.7" text-anchor="end" font-size="15" fill="#4a4a4a" stroke="#fff" stroke-width="2.2" stroke-opacity="0.6" paint-order="stroke">0.30</text><line x1="1030.4" y1="638.8" x2="1040.4" y2="638.8" stroke="#c9ccd2" stroke-width="1.4"/><text x="1025.4" y="644.1" text-anchor="end" font-size="15" fill="#4a4a4a" stroke="#fff" stroke-width="2.2" stroke-opacity="0.6" paint-order="stroke">0.35</text><line x1="1030.4" y1="608.3" x2="1040.4" y2="608.3" stroke="#c9ccd2" stroke-width="1.4"/><text x="1025.4" y="613.6" text-anchor="end" font-size="15" fill="#4a4a4a" stroke="#fff" stroke-width="2.2" stroke-opacity="0.6" paint-order="stroke">0.40</text><line x1="1030.4" y1="577.8" x2="1040.4" y2="577.8" stroke="#c9ccd2" stroke-width="1.4"/><text x="1025.4" y="583.0" text-anchor="end" font-size="15" fill="#4a4a4a" stroke="#fff" stroke-width="2.2" stroke-opacity="0.6" paint-order="stroke">0.45</text><line x1="1030.4" y1="547.2" x2="1040.4" y2="547.2" stroke="#c9ccd2" stroke-width="1.4"/><text x="1025.4" y="552.5" text-anchor="end" font-size="15" fill="#4a4a4a" stroke="#fff" stroke-width="2.2" stroke-opacity="0.6" paint-order="stroke">0.50</text><line x1="1030.4" y1="516.7" x2="1040.4" y2="516.7" stroke="#c9ccd2" stroke-width="1.4"/><text x="1025.4" y="522.0" text-anchor="end" font-size="15" fill="#4a4a4a" stroke="#fff" stroke-width="2.2" stroke-opacity="0.6" paint-order="stroke">0.55</text><line x1="1030.4" y1="486.1" x2="1040.4" y2="486.1" stroke="#c9ccd2" stroke-width="1.4"/><text x="1025.4" y="491.4" text-anchor="end" font-size="15" fill="#4a4a4a" stroke="#fff" stroke-width="2.2" stroke-opacity="0.6" paint-order="stroke">0.60</text><line x1="1030.4" y1="455.6" x2="1040.4" y2="455.6" stroke="#c9ccd2" stroke-width="1.4"/><text x="1025.4" y="460.9" text-anchor="end" font-size="15" fill="#4a4a4a" stroke="#fff" stroke-width="2.2" stroke-opacity="0.6" paint-order="stroke">0.65</text><line x1="1030.4" y1="425.1" x2="1040.4" y2="425.1" stroke="#c9ccd2" stroke-width="1.4"/><text x="1025.4" y="430.4" text-anchor="end" font-size="15" fill="#4a4a4a" stroke="#fff" stroke-width="2.2" stroke-opacity="0.6" paint-order="stroke">0.70</text><line x1="1030.4" y1="394.5" x2="1040.4" y2="394.5" stroke="#c9ccd2" stroke-width="1.4"/><text x="1025.4" y="399.8" text-anchor="end" font-size="15" fill="#4a4a4a" stroke="#fff" stroke-width="2.2" stroke-opacity="0.6" paint-order="stroke">0.75</text><line x1="1030.4" y1="364.0" x2="1040.4" y2="364.0" stroke="#c9ccd2" stroke-width="1.4"/><text x="1025.4" y="369.3" text-anchor="end" font-size="15" fill="#4a4a4a" stroke="#fff" stroke-width="2.2" stroke-opacity="0.6" paint-order="stroke">0.80</text><text x="1388.1" y="341" text-anchor="middle" font-size="15.5" fill="#3a3a3a">learning_rate</text><line x1="1388.1" y1="364.0" x2="1388.1" y2="791.5" stroke="#c9ccd2" stroke-width="1.4"/><line x1="1378.1" y1="791.5" x2="1388.1" y2="791.5" stroke="#c9ccd2" stroke-width="1.4"/><text x="1373.1" y="796.8" text-anchor="end" font-size="15" fill="#4a4a4a" stroke="#fff" stroke-width="2.2" stroke-opacity="0.6" paint-order="stroke">0.000</text><line x1="1378.1" y1="748.8" x2="1388.1" y2="748.8" stroke="#c9ccd2" stroke-width="1.4"/><text x="1373.1" y="754.0" text-anchor="end" font-size="15" fill="#4a4a4a" stroke="#fff" stroke-width="2.2" stroke-opacity="0.6" paint-order="stroke">0.001</text><line x1="1378.1" y1="706.0" x2="1388.1" y2="706.0" stroke="#c9ccd2" stroke-width="1.4"/><text x="1373.1" y="711.3" text-anchor="end" font-size="15" fill="#4a4a4a" stroke="#fff" stroke-width="2.2" stroke-opacity="0.6" paint-order="stroke">0.002</text><line x1="1378.1" y1="663.2" x2="1388.1" y2="663.2" stroke="#c9ccd2" stroke-width="1.4"/><text x="1373.1" y="668.5" text-anchor="end" font-size="15" fill="#4a4a4a" stroke="#fff" stroke-width="2.2" stroke-opacity="0.6" paint-order="stroke">0.003</text><line x1="1378.1" y1="620.5" x2="1388.1" y2="620.5" stroke="#c9ccd2" stroke-width="1.4"/><text x="1373.1" y="625.8" text-anchor="end" font-size="15" fill="#4a4a4a" stroke="#fff" stroke-width="2.2" stroke-opacity="0.6" paint-order="stroke">0.004</text><line x1="1378.1" y1="577.8" x2="1388.1" y2="577.8" stroke="#c9ccd2" stroke-width="1.4"/><text x="1373.1" y="583.0" text-anchor="end" font-size="15" fill="#4a4a4a" stroke="#fff" stroke-width="2.2" stroke-opacity="0.6" paint-order="stroke">0.005</text><line x1="1378.1" y1="535.0" x2="1388.1" y2="535.0" stroke="#c9ccd2" stroke-width="1.4"/><text x="1373.1" y="540.3" text-anchor="end" font-size="15" fill="#4a4a4a" stroke="#fff" stroke-width="2.2" stroke-opacity="0.6" paint-order="stroke">0.006</text><line x1="1378.1" y1="492.2" x2="1388.1" y2="492.2" stroke="#c9ccd2" stroke-width="1.4"/><text x="1373.1" y="497.6" text-anchor="end" font-size="15" fill="#4a4a4a" stroke="#fff" stroke-width="2.2" stroke-opacity="0.6" paint-order="stroke">0.007</text><line x1="1378.1" y1="449.5" x2="1388.1" y2="449.5" stroke="#c9ccd2" stroke-width="1.4"/><text x="1373.1" y="454.8" text-anchor="end" font-size="15" fill="#4a4a4a" stroke="#fff" stroke-width="2.2" stroke-opacity="0.6" paint-order="stroke">0.008</text><line x1="1378.1" y1="406.7" x2="1388.1" y2="406.7" stroke="#c9ccd2" stroke-width="1.4"/><text x="1373.1" y="412.0" text-anchor="end" font-size="15" fill="#4a4a4a" stroke="#fff" stroke-width="2.2" stroke-opacity="0.6" paint-order="stroke">0.009</text><line x1="1378.1" y1="364.0" x2="1388.1" y2="364.0" stroke="#c9ccd2" stroke-width="1.4"/><text x="1373.1" y="369.3" text-anchor="end" font-size="15" fill="#4a4a4a" stroke="#fff" stroke-width="2.2" stroke-opacity="0.6" paint-order="stroke">0.010</text><text x="1735.0" y="341" text-anchor="middle" font-size="15.5" fill="#3a3a3a">accuracy</text><line x1="1727.0" y1="791.5" x2="1737.0" y2="791.5" stroke="#c9ccd2" stroke-width="1.4"/><text x="1722.0" y="796.8" text-anchor="end" font-size="15" fill="#4a4a4a" stroke="#fff" stroke-width="2.2" stroke-opacity="0.6" paint-order="stroke">0.74</text><line x1="1727.0" y1="761.0" x2="1737.0" y2="761.0" stroke="#c9ccd2" stroke-width="1.4"/><text x="1722.0" y="766.3" text-anchor="end" font-size="15" fill="#4a4a4a" stroke="#fff" stroke-width="2.2" stroke-opacity="0.6" paint-order="stroke">0.75</text><line x1="1727.0" y1="730.4" x2="1737.0" y2="730.4" stroke="#c9ccd2" stroke-width="1.4"/><text x="1722.0" y="735.7" text-anchor="end" font-size="15" fill="#4a4a4a" stroke="#fff" stroke-width="2.2" stroke-opacity="0.6" paint-order="stroke">0.76</text><line x1="1727.0" y1="699.9" x2="1737.0" y2="699.9" stroke="#c9ccd2" stroke-width="1.4"/><text x="1722.0" y="705.2" text-anchor="end" font-size="15" fill="#4a4a4a" stroke="#fff" stroke-width="2.2" stroke-opacity="0.6" paint-order="stroke">0.77</text><line x1="1727.0" y1="669.4" x2="1737.0" y2="669.4" stroke="#c9ccd2" stroke-width="1.4"/><text x="1722.0" y="674.7" text-anchor="end" font-size="15" fill="#4a4a4a" stroke="#fff" stroke-width="2.2" stroke-opacity="0.6" paint-order="stroke">0.78</text><line x1="1727.0" y1="638.8" x2="1737.0" y2="638.8" stroke="#c9ccd2" stroke-width="1.4"/><text x="1722.0" y="644.1" text-anchor="end" font-size="15" fill="#4a4a4a" stroke="#fff" stroke-width="2.2" stroke-opacity="0.6" paint-order="stroke">0.79</text><line x1="1727.0" y1="608.3" x2="1737.0" y2="608.3" stroke="#c9ccd2" stroke-width="1.4"/><text x="1722.0" y="613.6" text-anchor="end" font-size="15" fill="#4a4a4a" stroke="#fff" stroke-width="2.2" stroke-opacity="0.6" paint-order="stroke">0.80</text><line x1="1727.0" y1="577.7" x2="1737.0" y2="577.7" stroke="#c9ccd2" stroke-width="1.4"/><text x="1722.0" y="583.0" text-anchor="end" font-size="15" fill="#4a4a4a" stroke="#fff" stroke-width="2.2" stroke-opacity="0.6" paint-order="stroke">0.81</text><line x1="1727.0" y1="547.2" x2="1737.0" y2="547.2" stroke="#c9ccd2" stroke-width="1.4"/><text x="1722.0" y="552.5" text-anchor="end" font-size="15" fill="#4a4a4a" stroke="#fff" stroke-width="2.2" stroke-opacity="0.6" paint-order="stroke">0.82</text><line x1="1727.0" y1="516.7" x2="1737.0" y2="516.7" stroke="#c9ccd2" stroke-width="1.4"/><text x="1722.0" y="522.0" text-anchor="end" font-size="15" fill="#4a4a4a" stroke="#fff" stroke-width="2.2" stroke-opacity="0.6" paint-order="stroke">0.83</text><line x1="1727.0" y1="486.1" x2="1737.0" y2="486.1" stroke="#c9ccd2" stroke-width="1.4"/><text x="1722.0" y="491.4" text-anchor="end" font-size="15" fill="#4a4a4a" stroke="#fff" stroke-width="2.2" stroke-opacity="0.6" paint-order="stroke">0.84</text><line x1="1727.0" y1="455.6" x2="1737.0" y2="455.6" stroke="#c9ccd2" stroke-width="1.4"/><text x="1722.0" y="460.9" text-anchor="end" font-size="15" fill="#4a4a4a" stroke="#fff" stroke-width="2.2" stroke-opacity="0.6" paint-order="stroke">0.85</text><line x1="1727.0" y1="425.1" x2="1737.0" y2="425.1" stroke="#c9ccd2" stroke-width="1.4"/><text x="1722.0" y="430.4" text-anchor="end" font-size="15" fill="#4a4a4a" stroke="#fff" stroke-width="2.2" stroke-opacity="0.6" paint-order="stroke">0.86</text><line x1="1727.0" y1="394.5" x2="1737.0" y2="394.5" stroke="#c9ccd2" stroke-width="1.4"/><text x="1722.0" y="399.8" text-anchor="end" font-size="15" fill="#4a4a4a" stroke="#fff" stroke-width="2.2" stroke-opacity="0.6" paint-order="stroke">0.87</text><line x1="1727.0" y1="364.0" x2="1737.0" y2="364.0" stroke="#c9ccd2" stroke-width="1.4"/><text x="1722.0" y="369.3" text-anchor="end" font-size="15" fill="#4a4a4a" stroke="#fff" stroke-width="2.2" stroke-opacity="0.6" paint-order="stroke">0.88</text></g></svg>
  </div>
  <div class="panel" style="top:782px;height:470px">
    <svg class="abs" style="left:-2px;top:-2px" width="1274" height="470" viewBox="594 856 1274 470"><text x="1230.5" y="914.5" text-anchor="middle" font-family="Liberation Sans, sans-serif" font-weight="bold" font-size="18.5" fill="#333">Accuracy vs Batch Size</text><text x="1828" y="944" text-anchor="end" font-family="Liberation Sans, sans-serif" font-size="15" fill="#666">learning_rate</text><defs><linearGradient id="lrg" x1="0" x2="1" y1="0" y2="0"><stop offset="0.0000" stop-color="#1a1060"/><stop offset="0.0163" stop-color="#1a1060"/><stop offset="0.0249" stop-color="#2c1485"/><stop offset="0.1363" stop-color="#3c149a"/><stop offset="0.1535" stop-color="#5c15a3"/><stop offset="0.2563" stop-color="#5c15a3"/><stop offset="0.2649" stop-color="#8a1fa0"/><stop offset="0.3763" stop-color="#8a1fa0"/><stop offset="0.3832" stop-color="#9b2f97"/><stop offset="0.4389" stop-color="#9b2f97"/><stop offset="0.4449" stop-color="#a83b84"/><stop offset="0.5178" stop-color="#a83b84"/><stop offset="0.5246" stop-color="#c44a78"/><stop offset="0.5958" stop-color="#c44a78"/><stop offset="0.6027" stop-color="#d0606c"/><stop offset="0.6507" stop-color="#d86a5c"/><stop offset="0.6952" stop-color="#d86a5c"/><stop offset="0.7021" stop-color="#e07853"/><stop offset="0.7621" stop-color="#e8804c"/><stop offset="0.8153" stop-color="#e8804c"/><stop offset="0.8221" stop-color="#f29a3c"/><stop offset="0.9044" stop-color="#f29a3c"/><stop offset="0.9113" stop-color="#f5b731"/><stop offset="1.0000" stop-color="#f7bb30"/></linearGradient></defs><rect x="671.0" y="944.3" width="1166.5" height="9.5" fill="url(#lrg)"/><line x1="732.5" y1="954.5" x2="732.5" y2="961.5" stroke="#e2e2e6" stroke-width="1.5"/><text x="732.5" y="985.7" text-anchor="middle" font-family="Liberation Sans, sans-serif" font-size="14" fill="#6a6a6e">0.0010</text><line x1="794.1" y1="954.5" x2="794.1" y2="961.5" stroke="#e2e2e6" stroke-width="1.5"/><text x="794.1" y="985.7" text-anchor="middle" font-family="Liberation Sans, sans-serif" font-size="14" fill="#6a6a6e">0.0015</text><line x1="855.8" y1="954.5" x2="855.8" y2="961.5" stroke="#e2e2e6" stroke-width="1.5"/><text x="855.8" y="985.7" text-anchor="middle" font-family="Liberation Sans, sans-serif" font-size="14" fill="#6a6a6e">0.0020</text><line x1="917.5" y1="954.5" x2="917.5" y2="961.5" stroke="#e2e2e6" stroke-width="1.5"/><text x="917.5" y="985.7" text-anchor="middle" font-family="Liberation Sans, sans-serif" font-size="14" fill="#6a6a6e">0.0025</text><line x1="979.1" y1="954.5" x2="979.1" y2="961.5" stroke="#e2e2e6" stroke-width="1.5"/><text x="979.1" y="985.7" text-anchor="middle" font-family="Liberation Sans, sans-serif" font-size="14" fill="#6a6a6e">0.0030</text><line x1="1040.8" y1="954.5" x2="1040.8" y2="961.5" stroke="#e2e2e6" stroke-width="1.5"/><text x="1040.8" y="985.7" text-anchor="middle" font-family="Liberation Sans, sans-serif" font-size="14" fill="#6a6a6e">0.0035</text><line x1="1102.4" y1="954.5" x2="1102.4" y2="961.5" stroke="#e2e2e6" stroke-width="1.5"/><text x="1102.4" y="985.7" text-anchor="middle" font-family="Liberation Sans, sans-serif" font-size="14" fill="#6a6a6e">0.0040</text><line x1="1164.0" y1="954.5" x2="1164.0" y2="961.5" stroke="#e2e2e6" stroke-width="1.5"/><text x="1164.0" y="985.7" text-anchor="middle" font-family="Liberation Sans, sans-serif" font-size="14" fill="#6a6a6e">0.0045</text><line x1="1225.7" y1="954.5" x2="1225.7" y2="961.5" stroke="#e2e2e6" stroke-width="1.5"/><text x="1225.7" y="985.7" text-anchor="middle" font-family="Liberation Sans, sans-serif" font-size="14" fill="#6a6a6e">0.0050</text><line x1="1287.3" y1="954.5" x2="1287.3" y2="961.5" stroke="#e2e2e6" stroke-width="1.5"/><text x="1287.3" y="985.7" text-anchor="middle" font-family="Liberation Sans, sans-serif" font-size="14" fill="#6a6a6e">0.0055</text><line x1="1349.0" y1="954.5" x2="1349.0" y2="961.5" stroke="#e2e2e6" stroke-width="1.5"/><text x="1349.0" y="985.7" text-anchor="middle" font-family="Liberation Sans, sans-serif" font-size="14" fill="#6a6a6e">0.0060</text><line x1="1410.7" y1="954.5" x2="1410.7" y2="961.5" stroke="#e2e2e6" stroke-width="1.5"/><text x="1410.7" y="985.7" text-anchor="middle" font-family="Liberation Sans, sans-serif" font-size="14" fill="#6a6a6e">0.0065</text><line x1="1472.3" y1="954.5" x2="1472.3" y2="961.5" stroke="#e2e2e6" stroke-width="1.5"/><text x="1472.3" y="985.7" text-anchor="middle" font-family="Liberation Sans, sans-serif" font-size="14" fill="#6a6a6e">0.0070</text><line x1="1533.9" y1="954.5" x2="1533.9" y2="961.5" stroke="#e2e2e6" stroke-width="1.5"/><text x="1533.9" y="985.7" text-anchor="middle" font-family="Liberation Sans, sans-serif" font-size="14" fill="#6a6a6e">0.0075</text><line x1="1595.6" y1="954.5" x2="1595.6" y2="961.5" stroke="#e2e2e6" stroke-width="1.5"/><text x="1595.6" y="985.7" text-anchor="middle" font-family="Liberation Sans, sans-serif" font-size="14" fill="#6a6a6e">0.0080</text><line x1="1657.2" y1="954.5" x2="1657.2" y2="961.5" stroke="#e2e2e6" stroke-width="1.5"/><text x="1657.2" y="985.7" text-anchor="middle" font-family="Liberation Sans, sans-serif" font-size="14" fill="#6a6a6e">0.0085</text><line x1="1718.9" y1="954.5" x2="1718.9" y2="961.5" stroke="#e2e2e6" stroke-width="1.5"/><text x="1718.9" y="985.7" text-anchor="middle" font-family="Liberation Sans, sans-serif" font-size="14" fill="#6a6a6e">0.0090</text><line x1="1780.5" y1="954.5" x2="1780.5" y2="961.5" stroke="#e2e2e6" stroke-width="1.5"/><text x="1780.5" y="985.7" text-anchor="middle" font-family="Liberation Sans, sans-serif" font-size="14" fill="#6a6a6e">0.0095</text><g stroke="#e9e9ee" stroke-width="1.6"><line x1="663" y1="1034.5" x2="1821.5" y2="1034.5"/><line x1="663" y1="1071.0" x2="1821.5" y2="1071.0"/><line x1="663" y1="1107.4" x2="1821.5" y2="1107.4"/><line x1="663" y1="1143.8" x2="1821.5" y2="1143.8"/><line x1="663" y1="1180.3" x2="1821.5" y2="1180.3"/><line x1="663" y1="1216.8" x2="1821.5" y2="1216.8"/><line x1="663" y1="1253.2" x2="1821.5" y2="1253.2"/><line x1="663" y1="1289.7" x2="1821.5" y2="1289.7"/><line x1="696.3" y1="1021" x2="696.3" y2="1290"/><line x1="756.8" y1="1021" x2="756.8" y2="1290"/><line x1="817.4" y1="1021" x2="817.4" y2="1290"/><line x1="877.9" y1="1021" x2="877.9" y2="1290"/><line x1="938.5" y1="1021" x2="938.5" y2="1290"/><line x1="999.0" y1="1021" x2="999.0" y2="1290"/><line x1="1059.6" y1="1021" x2="1059.6" y2="1290"/><line x1="1120.1" y1="1021" x2="1120.1" y2="1290"/><line x1="1180.7" y1="1021" x2="1180.7" y2="1290"/><line x1="1241.2" y1="1021" x2="1241.2" y2="1290"/><line x1="1301.8" y1="1021" x2="1301.8" y2="1290"/><line x1="1362.3" y1="1021" x2="1362.3" y2="1290"/><line x1="1422.9" y1="1021" x2="1422.9" y2="1290"/><line x1="1483.4" y1="1021" x2="1483.4" y2="1290"/><line x1="1544.0" y1="1021" x2="1544.0" y2="1290"/><line x1="1604.5" y1="1021" x2="1604.5" y2="1290"/><line x1="1665.1" y1="1021" x2="1665.1" y2="1290"/><line x1="1725.6" y1="1021" x2="1725.6" y2="1290"/><line x1="1786.2" y1="1021" x2="1786.2" y2="1290"/></g><line x1="672" y1="1021" x2="672" y2="1290" stroke="#e2e2e8" stroke-width="2.6"/><text x="651" y="1039.7" text-anchor="end" font-family="Liberation Sans, sans-serif" font-size="15" fill="#6a6a6e">0.87</text><text x="651" y="1076.2" text-anchor="end" font-family="Liberation Sans, sans-serif" font-size="15" fill="#6a6a6e">0.86</text><text x="651" y="1112.6" text-anchor="end" font-family="Liberation Sans, sans-serif" font-size="15" fill="#6a6a6e">0.85</text><text x="651" y="1149.0" text-anchor="end" font-family="Liberation Sans, sans-serif" font-size="15" fill="#6a6a6e">0.84</text><text x="651" y="1185.5" text-anchor="end" font-family="Liberation Sans, sans-serif" font-size="15" fill="#6a6a6e">0.83</text><text x="651" y="1222.0" text-anchor="end" font-family="Liberation Sans, sans-serif" font-size="15" fill="#6a6a6e">0.82</text><text x="651" y="1258.4" text-anchor="end" font-family="Liberation Sans, sans-serif" font-size="15" fill="#6a6a6e">0.81</text><text transform="translate(697.5,1060.5) rotate(-90)" text-anchor="middle" font-family="Liberation Sans, sans-serif" font-size="15" fill="#777">accuracy</text><circle cx="677.8" cy="1047.2" r="6.6" fill="#9b3399"/><circle cx="708.2" cy="1046.7" r="6.6" fill="#8a1fa0"/><circle cx="708.2" cy="1054.0" r="6.6" fill="#d0606c"/><circle cx="774.7" cy="1044.6" r="6.6" fill="#d0606c"/><circle cx="798.8" cy="1053.5" r="6.6" fill="#5c15a3"/><circle cx="846.5" cy="1025.2" r="6.6" fill="#3c149a"/><circle cx="853.4" cy="1061.2" r="6.6" fill="#e07853"/><circle cx="672.0" cy="1078.1" r="6.6" fill="#8a1fa0"/><circle cx="672.0" cy="1086.0" r="6.6" fill="#c44a78"/><circle cx="720.2" cy="1084.6" r="6.6" fill="#3c149a"/><circle cx="708.2" cy="1093.3" r="6.6" fill="#9b3399"/><circle cx="738.6" cy="1088.1" r="6.6" fill="#d0606c"/><circle cx="762.7" cy="1094.4" r="6.6" fill="#9b3399"/><circle cx="774.7" cy="1094.9" r="6.6" fill="#c44a78"/><circle cx="781.0" cy="1090.7" r="6.6" fill="#c44a78"/><circle cx="708.2" cy="1104.9" r="6.6" fill="#3c149a"/><circle cx="696.1" cy="1119.5" r="6.6" fill="#1c0f6e"/><circle cx="762.7" cy="1108.0" r="6.6" fill="#1c0f6e"/><circle cx="762.7" cy="1112.7" r="6.6" fill="#d86a5c"/><circle cx="774.7" cy="1113.2" r="6.6" fill="#f29a3c"/><circle cx="780.5" cy="1119.0" r="6.6" fill="#1c0f6e"/><circle cx="811.4" cy="1122.7" r="6.6" fill="#e8804c"/><circle cx="841.3" cy="1121.6" r="6.6" fill="#3c149a"/><circle cx="853.4" cy="1102.2" r="6.6" fill="#a83b84"/><circle cx="677.8" cy="1131.6" r="6.6" fill="#f5b731"/><circle cx="714.5" cy="1143.1" r="6.6" fill="#5c15a3"/><circle cx="762.7" cy="1142.6" r="6.6" fill="#c44a78"/><circle cx="829.2" cy="1149.4" r="6.6" fill="#f5b731"/><circle cx="756.4" cy="1153.6" r="6.6" fill="#f5b731"/><circle cx="768.4" cy="1155.2" r="6.6" fill="#3c149a"/><circle cx="672.0" cy="1163.6" r="6.6" fill="#e8804c"/><circle cx="720.2" cy="1182.5" r="6.6" fill="#f5b731"/><circle cx="720.2" cy="1188.7" r="6.6" fill="#e8804c"/><circle cx="720.2" cy="1200.3" r="6.6" fill="#d86a5c"/><circle cx="756.4" cy="1186.6" r="6.6" fill="#e07853"/><circle cx="780.5" cy="1181.4" r="6.6" fill="#5c15a3"/><circle cx="817.2" cy="1179.8" r="6.6" fill="#f29a3c"/><circle cx="756.4" cy="1236.4" r="6.6" fill="#e8804c"/><circle cx="769.0" cy="1232.8" r="6.6" fill="#a83b84"/><circle cx="774.7" cy="1248.0" r="6.6" fill="#d0606c"/><circle cx="677.8" cy="1246.9" r="6.6" fill="#e07853"/><circle cx="708.2" cy="1245.3" r="6.6" fill="#d0606c"/><circle cx="672.0" cy="1276.3" r="6.6" fill="#1c0f6e"/><circle cx="932.2" cy="1021.5" r="6.6" fill="#5c15a3"/><circle cx="938.3" cy="1040.4" r="6.6" fill="#d86a5c"/><circle cx="889.8" cy="1063.7" r="6.6" fill="#5c15a3"/><circle cx="986.8" cy="1070.3" r="6.6" fill="#f5b731"/><circle cx="1029.2" cy="1067.1" r="6.6" fill="#c44a78"/><circle cx="956.4" cy="1078.7" r="6.6" fill="#c44a78"/><circle cx="871.4" cy="1091.8" r="6.6" fill="#e8804c"/><circle cx="913.9" cy="1092.8" r="6.6" fill="#d0606c"/><circle cx="1010.9" cy="1091.8" r="6.6" fill="#e8804c"/><circle cx="901.8" cy="1105.4" r="6.6" fill="#9b3399"/><circle cx="956.4" cy="1107.5" r="6.6" fill="#a83b84"/><circle cx="1035.0" cy="1102.2" r="6.6" fill="#d0606c"/><circle cx="889.8" cy="1112.2" r="6.6" fill="#e8804c"/><circle cx="889.8" cy="1121.6" r="6.6" fill="#a83b84"/><circle cx="877.7" cy="1123.2" r="6.6" fill="#1c0f6e"/><circle cx="859.4" cy="1127.9" r="6.6" fill="#f29a3c"/><circle cx="871.4" cy="1137.4" r="6.6" fill="#e07853"/><circle cx="956.4" cy="1121.1" r="6.6" fill="#a83b84"/><circle cx="956.4" cy="1125.8" r="6.6" fill="#f29a3c"/><circle cx="901.8" cy="1146.5" r="6.6" fill="#5c15a3"/><circle cx="859.4" cy="1158.9" r="6.6" fill="#d0606c"/><circle cx="871.4" cy="1168.8" r="6.6" fill="#8a1fa0"/><circle cx="980.5" cy="1170.9" r="6.6" fill="#e07853"/><circle cx="968.4" cy="1185.6" r="6.6" fill="#9b3399"/><circle cx="950.3" cy="1201.8" r="6.6" fill="#c44a78"/><circle cx="883.5" cy="1251.1" r="6.6" fill="#9b3399"/><circle cx="956.4" cy="1273.6" r="6.6" fill="#9b3399"/><circle cx="1010.9" cy="1263.2" r="6.6" fill="#3c149a"/><circle cx="1040.5" cy="1239.3" r="6.6" fill="#3c149a"/><circle cx="1083.5" cy="1075.5" r="6.6" fill="#a83b84"/><circle cx="1077.2" cy="1082.9" r="6.6" fill="#c44a78"/><circle cx="1107.6" cy="1065.6" r="6.6" fill="#9b3399"/><circle cx="1113.9" cy="1070.8" r="6.6" fill="#d0606c"/><circle cx="1131.7" cy="1063.5" r="6.6" fill="#f5b731"/><circle cx="1156.3" cy="1086.5" r="6.6" fill="#d0606c"/><circle cx="1186.2" cy="1084.4" r="6.6" fill="#f29a3c"/><circle cx="1192.5" cy="1096.5" r="6.6" fill="#3c149a"/><circle cx="1179.9" cy="1105.4" r="6.6" fill="#5c15a3"/><circle cx="1186.2" cy="1110.1" r="6.6" fill="#f5b731"/><circle cx="1222.9" cy="1109.6" r="6.6" fill="#f5b731"/><circle cx="1089.5" cy="1105.4" r="6.6" fill="#8a1fa0"/><circle cx="1107.6" cy="1125.3" r="6.6" fill="#f29a3c"/><circle cx="1174.1" cy="1131.1" r="6.6" fill="#e07853"/><circle cx="1138.0" cy="1140.0" r="6.6" fill="#5c15a3"/><circle cx="1131.7" cy="1144.2" r="6.6" fill="#f29a3c"/><circle cx="1125.4" cy="1149.4" r="6.6" fill="#3c149a"/><circle cx="1071.4" cy="1181.9" r="6.6" fill="#8a1fa0"/><circle cx="1180.4" cy="1165.7" r="6.6" fill="#9b3399"/><circle cx="1131.7" cy="1249.0" r="6.6" fill="#f29a3c"/><circle cx="1156.3" cy="1249.0" r="6.6" fill="#3c149a"/><circle cx="1192.5" cy="1239.0" r="6.6" fill="#a83b84"/><circle cx="1174.1" cy="1275.2" r="6.6" fill="#3c149a"/><circle cx="1192.5" cy="1271.6" r="6.6" fill="#5c15a3"/><circle cx="1065.1" cy="1281.0" r="6.6" fill="#c44a78"/><circle cx="1277.1" cy="1055.1" r="6.6" fill="#3c149a"/><circle cx="1289.2" cy="1076.0" r="6.6" fill="#5c15a3"/><circle cx="1289.2" cy="1092.3" r="6.6" fill="#9b3399"/><circle cx="1307.5" cy="1089.1" r="6.6" fill="#8a1fa0"/><circle cx="1307.5" cy="1097.5" r="6.6" fill="#f29a3c"/><circle cx="1271.4" cy="1102.8" r="6.6" fill="#e8804c"/><circle cx="1277.1" cy="1112.2" r="6.6" fill="#3c149a"/><circle cx="1295.5" cy="1111.7" r="6.6" fill="#e07853"/><circle cx="1355.7" cy="1051.9" r="6.6" fill="#e8804c"/><circle cx="1350.0" cy="1059.3" r="6.6" fill="#c44a78"/><circle cx="1367.8" cy="1071.8" r="6.6" fill="#d0606c"/><circle cx="1386.1" cy="1079.2" r="6.6" fill="#c44a78"/><circle cx="1362.0" cy="1110.6" r="6.6" fill="#9b3399"/><circle cx="1362.0" cy="1116.4" r="6.6" fill="#5c15a3"/><circle cx="1325.9" cy="1129.0" r="6.6" fill="#8a1fa0"/><circle cx="1337.9" cy="1130.0" r="6.6" fill="#c44a78"/><circle cx="1367.8" cy="1131.6" r="6.6" fill="#f5b731"/><circle cx="1367.8" cy="1139.5" r="6.6" fill="#9b3399"/><circle cx="1283.4" cy="1149.4" r="6.6" fill="#e07853"/><circle cx="1307.5" cy="1158.3" r="6.6" fill="#8a1fa0"/><circle cx="1246.7" cy="1175.1" r="6.6" fill="#9b3399"/><circle cx="1241.0" cy="1186.6" r="6.6" fill="#a83b84"/><circle cx="1307.5" cy="1185.6" r="6.6" fill="#e07853"/><circle cx="1331.6" cy="1176.2" r="6.6" fill="#f5b731"/><circle cx="1355.7" cy="1209.2" r="6.6" fill="#f5b731"/><circle cx="1295.5" cy="1224.9" r="6.6" fill="#d86a5c"/><circle cx="1410.3" cy="1245.3" r="6.6" fill="#3c149a"/><circle cx="1419.5" cy="1226.0" r="6.6" fill="#5c15a3"/><circle cx="1246.7" cy="1271.6" r="6.6" fill="#f29a3c"/><circle cx="1295.5" cy="1271.6" r="6.6" fill="#c44a78"/><circle cx="1440.4" cy="1040.9" r="6.6" fill="#c44a78"/><circle cx="1579.8" cy="1037.8" r="6.6" fill="#5c15a3"/><circle cx="1543.6" cy="1053.0" r="6.6" fill="#8a1fa0"/><circle cx="1440.4" cy="1083.9" r="6.6" fill="#3c149a"/><circle cx="1452.5" cy="1085.5" r="6.6" fill="#e07853"/><circle cx="1525.3" cy="1076.0" r="6.6" fill="#5c15a3"/><circle cx="1513.2" cy="1088.6" r="6.6" fill="#a83b84"/><circle cx="1495.1" cy="1093.3" r="6.6" fill="#5c15a3"/><circle cx="1561.5" cy="1080.2" r="6.6" fill="#3c149a"/><circle cx="1574.0" cy="1078.7" r="6.6" fill="#e8804c"/><circle cx="1591.9" cy="1091.2" r="6.6" fill="#d0606c"/><circle cx="1422.6" cy="1113.8" r="6.6" fill="#5c15a3"/><circle cx="1489.1" cy="1113.8" r="6.6" fill="#a83b84"/><circle cx="1507.5" cy="1116.4" r="6.6" fill="#f5b731"/><circle cx="1482.9" cy="1149.4" r="6.6" fill="#d0606c"/><circle cx="1507.5" cy="1149.4" r="6.6" fill="#3c149a"/><circle cx="1561.5" cy="1154.7" r="6.6" fill="#f5b731"/><circle cx="1573.5" cy="1154.2" r="6.6" fill="#c44a78"/><circle cx="1598.2" cy="1162.5" r="6.6" fill="#d86a5c"/><circle cx="1470.8" cy="1165.2" r="6.6" fill="#a83b84"/><circle cx="1440.4" cy="1181.9" r="6.6" fill="#a83b84"/><circle cx="1452.5" cy="1185.6" r="6.6" fill="#8a1fa0"/><circle cx="1585.6" cy="1191.9" r="6.6" fill="#a83b84"/><circle cx="1519.5" cy="1243.8" r="6.6" fill="#8a1fa0"/><circle cx="1440.4" cy="1273.1" r="6.6" fill="#a83b84"/><circle cx="1610.1" cy="1052.8" r="6.6" fill="#a83b84"/><circle cx="1664.5" cy="1030.8" r="6.6" fill="#a83b84"/><circle cx="1694.3" cy="1043.3" r="6.6" fill="#9b3399"/><circle cx="1700.6" cy="1047.7" r="6.6" fill="#8a1fa0"/><circle cx="1713.2" cy="1043.7" r="6.6" fill="#9b3399"/><circle cx="1658.5" cy="1063.8" r="6.6" fill="#a83b84"/><circle cx="1791.6" cy="1046.9" r="6.6" fill="#d86a5c"/><circle cx="1791.6" cy="1062.2" r="6.6" fill="#a83b84"/><circle cx="1628.3" cy="1090.5" r="6.6" fill="#3c149a"/><circle cx="1670.7" cy="1099.7" r="6.6" fill="#f5b731"/><circle cx="1700.6" cy="1083.0" r="6.6" fill="#8a1fa0"/><circle cx="1731.2" cy="1096.5" r="6.6" fill="#d0606c"/><circle cx="1725.2" cy="1106.2" r="6.6" fill="#a83b84"/><circle cx="1628.3" cy="1115.7" r="6.6" fill="#f29a3c"/><circle cx="1695.0" cy="1132.6" r="6.6" fill="#f5b731"/><circle cx="1737.4" cy="1122.6" r="6.6" fill="#9b3399"/><circle cx="1767.3" cy="1131.4" r="6.6" fill="#a83b84"/><circle cx="1749.1" cy="1143.0" r="6.6" fill="#f5b731"/><circle cx="1797.5" cy="1116.9" r="6.6" fill="#f5b731"/><circle cx="1797.5" cy="1128.9" r="6.6" fill="#e8804c"/><circle cx="1815.7" cy="1123.8" r="6.6" fill="#3c149a"/><circle cx="1803.5" cy="1137.0" r="6.6" fill="#3c149a"/><circle cx="1803.7" cy="1148.5" r="6.6" fill="#d0606c"/><circle cx="1664.5" cy="1148.0" r="6.6" fill="#d86a5c"/><circle cx="1670.4" cy="1158.9" r="6.6" fill="#f29a3c"/><circle cx="1718.9" cy="1155.1" r="6.6" fill="#d0606c"/><circle cx="1718.9" cy="1170.8" r="6.6" fill="#1c0f6e"/><circle cx="1767.3" cy="1184.7" r="6.6" fill="#f29a3c"/><circle cx="1803.8" cy="1198.5" r="6.6" fill="#e07853"/><circle cx="1779.2" cy="1204.2" r="6.6" fill="#a83b84"/><circle cx="1634.6" cy="1205.2" r="6.6" fill="#8a1fa0"/><circle cx="1688.7" cy="1223.0" r="6.6" fill="#f29a3c"/><circle cx="1664.5" cy="1244.2" r="6.6" fill="#f29a3c"/><circle cx="1737.1" cy="1252.6" r="6.6" fill="#5c15a3"/><circle cx="1652.2" cy="1270.2" r="6.6" fill="#3c149a"/><circle cx="1797.5" cy="1267.0" r="6.6" fill="#d86a5c"/><circle cx="1779.2" cy="1276.5" r="6.6" fill="#f29a3c"/></svg>
  </div>
</div>
<div id="bottom">
  <div class="abs" style="left:149px;top:31px;font-size:21.5px;line-height:28px;color:#333;white-space:nowrap">My Workspace</div><svg class="abs" style="left:306px;top:29px" width="14" height="30" viewBox="0 0 14 30"><g fill="#6a6a6a"><circle cx="7" cy="5.5" r="2.4"/><circle cx="7" cy="14.3" r="2.4"/><circle cx="7" cy="23.1" r="2.4"/></g></svg><div class="abs" style="left:1466px;top:32px;font-size:19.5px;line-height:24px;color:#a8a8a8;white-space:nowrap;border-bottom:2px dashed #b5b5b5;padding-bottom:0px">Updated 2 weeks ago</div><div class="abs" style="left:1678px;top:18px;width:100px;height:54px;background:#f6f6f6;border:1px solid #eee;border-radius:6px"></div>
<div class="abs" style="left:1727px;top:19px;width:1px;height:52px;background:#ebebeb"></div>
<svg class="abs" style="left:1688px;top:32px" width="28" height="28" viewBox="0 0 28 28"><path d="M7 9 A8.5 8.5 0 1 1 8 21" fill="none" stroke="#cfcfd2" stroke-width="2"/><path d="M5 4 V10 H11" fill="none" stroke="#cfcfd2" stroke-width="2"/></svg>
<svg class="abs" style="left:1738px;top:32px" width="28" height="28" viewBox="0 0 28 28"><path d="M21 9 A8.5 8.5 0 1 0 20 21" fill="none" stroke="#cfcfd2" stroke-width="2"/><path d="M23 4 V10 H17" fill="none" stroke="#cfcfd2" stroke-width="2"/></svg>
</div>
<div class="abs" style="left:1796px;top:1248px;width:90px;height:90px;border-radius:50%;background:#c5c5c9;box-shadow:0 0 14px 4px rgba(0,0,0,0.05)"></div>
<svg class="abs" style="left:1818px;top:1268px" width="46" height="52" viewBox="0 0 46 52"><path d="M4 4 a3 3 0 0 1 3 -3 H38 a3 3 0 0 1 3 3 V48 L34 43 H7 a3 3 0 0 1 -3 -3 Z" fill="#fff"/><path d="M10 31 C18 36 27 36 35 31" fill="none" stroke="#c5c5c9" stroke-width="2"/></svg></body></html>
